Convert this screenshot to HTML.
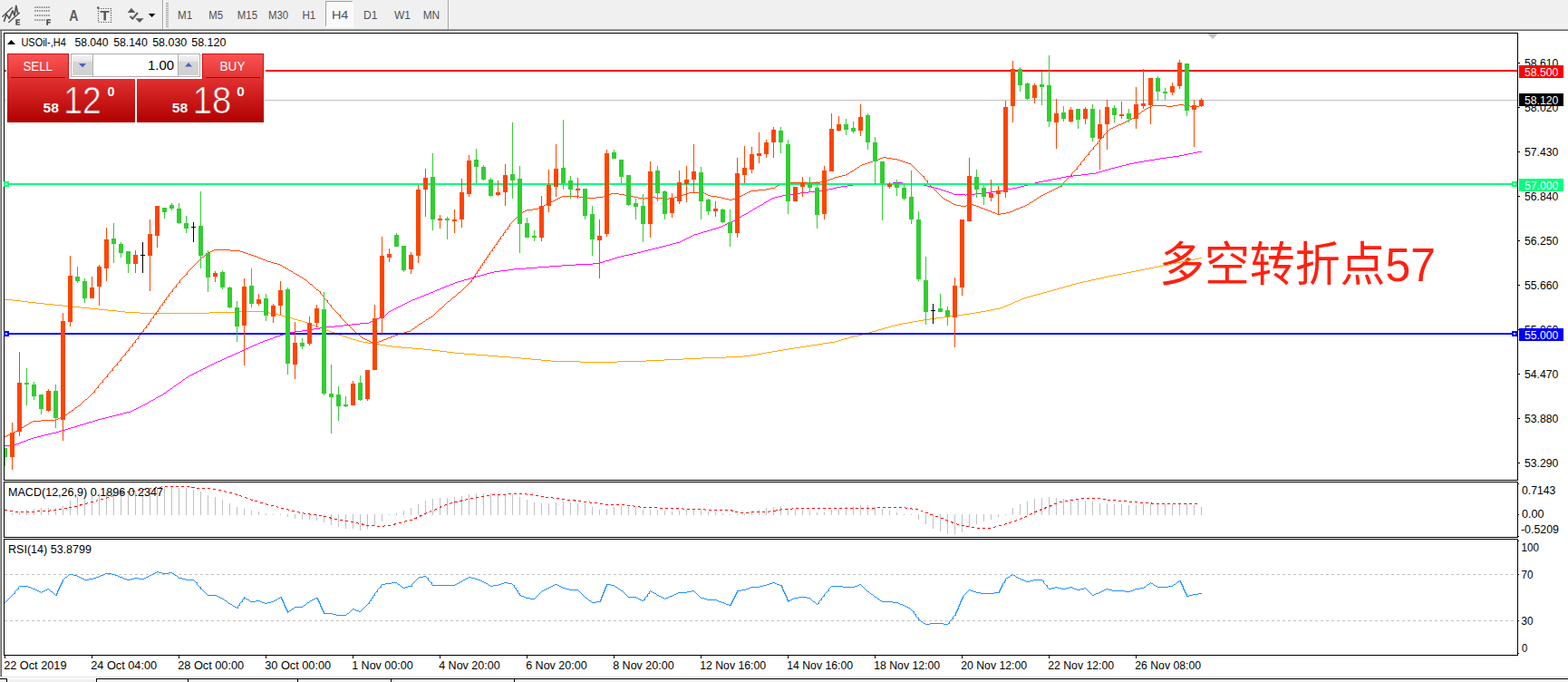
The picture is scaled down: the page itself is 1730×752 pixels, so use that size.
<!DOCTYPE html><html><head><meta charset="utf-8"><title>USOil H4</title>
<style>html,body{margin:0;padding:0;background:#fff;}body{width:1730px;height:752px;overflow:hidden;font-family:"Liberation Sans",sans-serif;}svg{display:block}text{font-family:"Liberation Sans",sans-serif}</style></head><body>
<svg width="1730" height="752" viewBox="0 0 1730 752">
<defs><linearGradient id="gTab" x1="0" y1="0" x2="0" y2="1"><stop offset="0" stop-color="#FB5555"/><stop offset="1" stop-color="#E23232"/></linearGradient><linearGradient id="gLow" x1="0" y1="0" x2="0" y2="1"><stop offset="0" stop-color="#E03030"/><stop offset="0.5" stop-color="#C81818"/><stop offset="1" stop-color="#B00000"/></linearGradient><linearGradient id="gLowU" gradientUnits="userSpaceOnUse" x1="0" y1="87" x2="0" y2="135"><stop offset="0" stop-color="#E03030"/><stop offset="0.5" stop-color="#C81818"/><stop offset="1" stop-color="#B00000"/></linearGradient><linearGradient id="gBtn" x1="0" y1="0" x2="0" y2="1"><stop offset="0" stop-color="#F4F4F4"/><stop offset="0.3" stop-color="#E6E6E6"/><stop offset="0.31" stop-color="#D6D6D6"/><stop offset="1" stop-color="#D0D0D0"/></linearGradient><pattern id="hatch" width="2" height="2" patternUnits="userSpaceOnUse"><rect width="2" height="2" fill="#F4F4F4"/><rect width="1" height="1" fill="#FFFFFF"/><rect x="1" y="1" width="1" height="1" fill="#FFFFFF"/></pattern></defs>
<rect x="0" y="0" width="1730" height="752" fill="#FFFFFF"/>
<rect x="0" y="0" width="1730" height="32" fill="#F0F0F0"/>
<rect x="0" y="32" width="1730" height="1" fill="#A0A0A0"/>
<rect x="0" y="33" width="1730" height="1" fill="#696969"/>
<rect x="0" y="34" width="1" height="712" fill="#A0A0A0"/>
<rect x="1" y="34" width="1" height="712" fill="#696969"/>
<rect x="0" y="746" width="1730" height="1" fill="#E3E3E3"/>
<rect x="0" y="749" width="1730" height="3" fill="#F0F0F0"/>
<rect x="106" y="748" width="1624" height="1" fill="#000"/>
<rect x="106" y="748" width="1" height="4" fill="#000"/>
<rect x="0" y="748" width="8" height="1" fill="#000"/><rect x="7" y="748" width="1" height="4" fill="#000"/>
<rect x="207" y="749" width="1" height="3" fill="#000"/>
<rect x="328" y="749" width="1" height="3" fill="#000"/>
<rect x="431" y="749" width="1" height="3" fill="#000"/>
<rect x="567" y="749" width="1" height="3" fill="#000"/>
<g shape-rendering="crispEdges">
<rect x="4" y="36" width="1671" height="1" fill="#000"/>
<rect x="4" y="529" width="1671" height="1" fill="#000"/>
<rect x="4" y="36" width="1" height="494" fill="#000"/>
<rect x="1674" y="36" width="1" height="494" fill="#000"/>
<rect x="4" y="531" width="1671" height="1" fill="#000"/>
<rect x="4" y="592" width="1671" height="1" fill="#000"/>
<rect x="4" y="531" width="1" height="62" fill="#000"/>
<rect x="1674" y="531" width="1" height="62" fill="#000"/>
<rect x="4" y="594" width="1671" height="1" fill="#000"/>
<rect x="4" y="722" width="1671" height="1" fill="#000"/>
<rect x="4" y="594" width="1" height="129" fill="#000"/>
<rect x="1674" y="594" width="1" height="129" fill="#000"/>
<rect x="5" y="110" width="1669" height="1" fill="#C0C0C0"/>
</g>
<text x="1279" y="310" font-size="52" fill="#FF2010" text-anchor="start" textLength="305" lengthAdjust="spacingAndGlyphs" style="font-family:'Liberation Sans','Noto Sans CJK SC',sans-serif">多空转折点57</text>
<path d="M5.5 330.5H13.5M14.5 331.5H22.5M23.5 332.5H30.5M31.5 333.5H39.5M40.5 334.5H48.5M49.5 335.5H58.5M59.5 336.5H68.5M69.5 337.5H78.5M79.5 338.5H88.5M89.5 339.5H98.5M99.5 340.5H108.5M109.5 341.5H118.5M119.5 342.5H128.5M129.5 343.5H137.5M138.5 344.5H153.5M154.5 345.5H169.5M170.5 346.5H170.5M171.5 345.5H230.5M231.5 344.5H262.5M263.5 343.5H290.5M291.5 344.5H296.5M297.5 345.5H302.5M303.5 346.5H306.5M307.5 347.5H310.5M311.5 348.5H313.5M314.5 349.5H317.5M318.5 350.5H321.5M322.5 351.5H324.5M325.5 352.5H328.5M329.5 353.5H332.5M333.5 354.5H335.5M336.5 355.5H338.5M339.5 356.5H341.5M342.5 357.5H343.5M344.5 358.5H346.5M347.5 359.5H349.5M350.5 360.5H351.5M352.5 361.5H354.5M355.5 362.5H357.5M358.5 363.5H359.5M360.5 364.5H362.5M363.5 365.5H365.5M366.5 366.5H368.5M369.5 367.5H371.5M372.5 368.5H373.5M374.5 369.5H376.5M377.5 370.5H379.5M380.5 371.5H382.5M383.5 372.5H385.5M386.5 373.5H388.5M389.5 374.5H392.5M393.5 375.5H395.5M396.5 376.5H399.5M400.5 377.5H405.5M406.5 378.5H412.5M413.5 379.5H418.5M419.5 380.5H425.5M426.5 381.5H432.5M433.5 382.5H442.5M443.5 383.5H454.5M455.5 384.5H466.5M467.5 385.5H475.5M476.5 386.5H484.5M485.5 387.5H492.5M493.5 388.5H500.5M501.5 389.5H511.5M512.5 390.5H524.5M525.5 391.5H537.5M538.5 392.5H549.5M550.5 393.5H562.5M563.5 394.5H574.5M575.5 395.5H585.5M586.5 396.5H596.5M597.5 397.5H607.5M608.5 398.5H639.5M640.5 399.5H680.5M681.5 398.5H712.5M713.5 397.5H732.5M733.5 396.5H753.5M754.5 395.5H773.5M774.5 394.5H800.5M801.5 393.5H819.5M820.5 392.5H827.5M828.5 391.5H834.5M835.5 390.5H840.5M841.5 389.5H845.5M846.5 388.5H851.5M852.5 387.5H857.5M858.5 386.5H863.5M864.5 385.5H869.5M870.5 384.5H875.5M876.5 383.5H882.5M883.5 382.5H888.5M889.5 381.5H894.5M895.5 380.5H901.5M902.5 379.5H907.5M908.5 378.5H914.5M915.5 377.5H920.5M921.5 376.5H924.5M925.5 375.5H927.5M928.5 374.5H930.5M931.5 373.5H934.5M935.5 372.5H937.5M938.5 371.5H941.5M942.5 370.5H946.5M947.5 369.5H950.5M951.5 368.5H954.5M955.5 367.5H958.5M959.5 366.5H961.5M962.5 365.5H965.5M966.5 364.5H968.5M969.5 363.5H972.5M973.5 362.5H975.5M976.5 361.5H979.5M980.5 360.5H982.5M983.5 359.5H986.5M987.5 358.5H990.5M991.5 357.5H995.5M996.5 356.5H1001.5M1002.5 355.5H1006.5M1007.5 354.5H1012.5M1013.5 353.5H1018.5M1019.5 352.5H1025.5M1026.5 351.5H1032.5M1033.5 350.5H1040.5M1041.5 349.5H1047.5M1048.5 348.5H1055.5M1056.5 347.5H1062.5M1063.5 346.5H1069.5M1070.5 345.5H1075.5M1076.5 344.5H1081.5M1082.5 343.5H1087.5M1088.5 342.5H1092.5M1093.5 341.5H1097.5M1098.5 340.5H1102.5M1103.5 339.5H1105.5M1106.5 338.5H1107.5M1108.5 337.5H1110.5M1111.5 336.5H1112.5M1113.5 335.5H1115.5M1116.5 334.5H1117.5M1118.5 333.5H1119.5M1120.5 332.5H1122.5M1123.5 331.5H1124.5M1125.5 330.5H1126.5M1127.5 329.5H1129.5M1130.5 328.5H1132.5M1133.5 327.5H1136.5M1137.5 326.5H1139.5M1140.5 325.5H1143.5M1144.5 324.5H1147.5M1148.5 323.5H1150.5M1151.5 322.5H1154.5M1155.5 321.5H1158.5M1159.5 320.5H1161.5M1162.5 319.5H1165.5M1166.5 318.5H1168.5M1169.5 317.5H1172.5M1173.5 316.5H1175.5M1176.5 315.5H1179.5M1180.5 314.5H1182.5M1183.5 313.5H1186.5M1187.5 312.5H1190.5M1191.5 311.5H1194.5M1195.5 310.5H1199.5M1200.5 309.5H1203.5M1204.5 308.5H1208.5M1209.5 307.5H1213.5M1214.5 306.5H1217.5M1218.5 305.5H1222.5M1223.5 304.5H1227.5M1228.5 303.5H1232.5M1233.5 302.5H1237.5M1238.5 301.5H1242.5M1243.5 300.5H1247.5M1248.5 299.5H1252.5M1253.5 298.5H1257.5M1258.5 297.5H1262.5M1263.5 296.5H1267.5M1268.5 295.5H1272.5M1273.5 294.5H1277.5M1278.5 293.5H1282.5M1283.5 292.5H1287.5M1288.5 291.5H1292.5M1293.5 290.5H1297.5M1298.5 289.5H1302.5M1303.5 288.5H1307.5M1308.5 287.5H1312.5M1313.5 286.5H1317.5M1318.5 285.5H1322.5M1323.5 284.5H1325.5" fill="none" stroke="#FFA500" stroke-width="1" stroke-linecap="square" shape-rendering="crispEdges"/>
<path d="M5.5 491.5H15.5M16.5 490.5H17.5M18.5 489.5H20.5M21.5 488.5H22.5M23.5 487.5H25.5M26.5 486.5H28.5M29.5 485.5H30.5M31.5 484.5H33.5M34.5 483.5H36.5M37.5 482.5H40.5M41.5 481.5H44.5M45.5 480.5H48.5M49.5 479.5H52.5M53.5 478.5H56.5M57.5 477.5H61.5M62.5 476.5H64.5M65.5 475.5H67.5M68.5 474.5H71.5M72.5 473.5H74.5M75.5 472.5H77.5M78.5 471.5H81.5M82.5 470.5H84.5M85.5 469.5H87.5M88.5 468.5H91.5M92.5 467.5H94.5M95.5 466.5H97.5M98.5 465.5H101.5M102.5 464.5H104.5M105.5 463.5H107.5M108.5 462.5H111.5M112.5 461.5H115.5M116.5 460.5H119.5M120.5 459.5H123.5M124.5 458.5H127.5M128.5 457.5H131.5M132.5 456.5H135.5M136.5 455.5H139.5M140.5 454.5H143.5M144.5 453.5H145.5M146.5 452.5H147.5M148.5 451.5H149.5M150.5 450.5H151.5M152.5 449.5H153.5M154.5 448.5H155.5M156.5 447.5H157.5M158.5 446.5H159.5M160.5 445.5H161.5M162.5 444.5H163.5M164.5 443.5H164.5M165.5 442.5H166.5M167.5 441.5H168.5M169.5 440.5H170.5M171.5 439.5H171.5M172.5 438.5H173.5M174.5 437.5H175.5M176.5 436.5H177.5M178.5 435.5H179.5M180.5 434.5H180.5M181.5 433.5H182.5M183.5 432.5H183.5M184.5 431.5H184.5M185.5 430.5H186.5M187.5 429.5H187.5M188.5 428.5H189.5M190.5 427.5H190.5M191.5 426.5H191.5M192.5 425.5H193.5M194.5 424.5H194.5M195.5 423.5H196.5M197.5 422.5H197.5M198.5 421.5H199.5M200.5 420.5H200.5M201.5 419.5H201.5M202.5 418.5H203.5M204.5 417.5H204.5M205.5 416.5H206.5M207.5 415.5H207.5M208.5 414.5H209.5M210.5 413.5H211.5M212.5 412.5H213.5M214.5 411.5H215.5M216.5 410.5H217.5M218.5 409.5H219.5M220.5 408.5H221.5M222.5 407.5H223.5M224.5 406.5H225.5M226.5 405.5H227.5M228.5 404.5H229.5M230.5 403.5H231.5M232.5 402.5H233.5M234.5 401.5H235.5M236.5 400.5H237.5M238.5 399.5H239.5M240.5 398.5H242.5M243.5 397.5H244.5M245.5 396.5H246.5M247.5 395.5H248.5M249.5 394.5H250.5M251.5 393.5H253.5M254.5 392.5H255.5M256.5 391.5H257.5M258.5 390.5H259.5M260.5 389.5H262.5M263.5 388.5H264.5M265.5 387.5H266.5M267.5 386.5H268.5M269.5 385.5H270.5M271.5 384.5H273.5M274.5 383.5H275.5M276.5 382.5H277.5M278.5 381.5H279.5M280.5 380.5H282.5M283.5 379.5H284.5M285.5 378.5H286.5M287.5 377.5H289.5M290.5 376.5H291.5M292.5 375.5H294.5M295.5 374.5H297.5M298.5 373.5H300.5M301.5 372.5H302.5M303.5 371.5H305.5M306.5 370.5H308.5M309.5 369.5H311.5M312.5 368.5H315.5M316.5 367.5H319.5M320.5 366.5H324.5M325.5 365.5H332.5M333.5 364.5H339.5M340.5 363.5H345.5M346.5 362.5H352.5M353.5 361.5H359.5M360.5 360.5H368.5M369.5 359.5H378.5M379.5 358.5H387.5M388.5 357.5H396.5M397.5 356.5H406.5M407.5 355.5H408.5M409.5 354.5H410.5M411.5 353.5H412.5M413.5 352.5H415.5M416.5 351.5H417.5M418.5 350.5H419.5M420.5 349.5H421.5M422.5 348.5H424.5M425.5 347.5H425.5M426.5 346.5H426.5M427.5 345.5H427.5M428.5 344.5H428.5M429.5 343.5H430.5M431.5 342.5H432.5M433.5 341.5H434.5M435.5 340.5H436.5M437.5 339.5H438.5M439.5 338.5H440.5M441.5 337.5H442.5M443.5 336.5H444.5M445.5 335.5H446.5M447.5 334.5H448.5M449.5 333.5H450.5M451.5 332.5H452.5M453.5 331.5H454.5M455.5 330.5H457.5M458.5 329.5H459.5M460.5 328.5H462.5M463.5 327.5H464.5M465.5 326.5H467.5M468.5 325.5H469.5M470.5 324.5H472.5M473.5 323.5H474.5M475.5 322.5H477.5M478.5 321.5H479.5M480.5 320.5H481.5M482.5 319.5H484.5M485.5 318.5H486.5M487.5 317.5H489.5M490.5 316.5H491.5M492.5 315.5H494.5M495.5 314.5H496.5M497.5 313.5H499.5M500.5 312.5H501.5M502.5 311.5H504.5M505.5 310.5H508.5M509.5 309.5H511.5M512.5 308.5H515.5M516.5 307.5H518.5M519.5 306.5H522.5M523.5 305.5H525.5M526.5 304.5H529.5M530.5 303.5H533.5M534.5 302.5H536.5M537.5 301.5H540.5M541.5 300.5H544.5M545.5 299.5H551.5M552.5 298.5H559.5M560.5 297.5H566.5M567.5 296.5H579.5M580.5 295.5H592.5M593.5 294.5H605.5M606.5 293.5H619.5M620.5 292.5H634.5M635.5 291.5H653.5M654.5 290.5H661.5M662.5 289.5H664.5M665.5 288.5H667.5M668.5 287.5H671.5M672.5 286.5H674.5M675.5 285.5H677.5M678.5 284.5H680.5M681.5 283.5H684.5M685.5 282.5H688.5M689.5 281.5H693.5M694.5 280.5H697.5M698.5 279.5H702.5M703.5 278.5H706.5M707.5 277.5H710.5M711.5 276.5H714.5M715.5 275.5H718.5M719.5 274.5H722.5M723.5 273.5H726.5M727.5 272.5H730.5M731.5 271.5H734.5M735.5 270.5H738.5M739.5 269.5H741.5M742.5 268.5H745.5M746.5 267.5H749.5M750.5 266.5H751.5M752.5 265.5H753.5M754.5 264.5H755.5M756.5 263.5H757.5M758.5 262.5H759.5M760.5 261.5H761.5M762.5 260.5H763.5M764.5 259.5H765.5M766.5 258.5H769.5M770.5 257.5H772.5M773.5 256.5H775.5M776.5 255.5H779.5M780.5 254.5H782.5M783.5 253.5H785.5M786.5 252.5H789.5M790.5 251.5H792.5M793.5 250.5H795.5M796.5 249.5H797.5M798.5 248.5H799.5M800.5 247.5H801.5M802.5 246.5H803.5M804.5 245.5H806.5M807.5 244.5H808.5M809.5 243.5H810.5M811.5 242.5H811.5M812.5 241.5H813.5M814.5 240.5H815.5M816.5 239.5H817.5M818.5 238.5H818.5M819.5 237.5H820.5M821.5 236.5H822.5M823.5 235.5H824.5M825.5 234.5H825.5M826.5 233.5H827.5M828.5 232.5H829.5M830.5 231.5H830.5M831.5 230.5H832.5M833.5 229.5H834.5M835.5 228.5H835.5M836.5 227.5H837.5M838.5 226.5H839.5M840.5 225.5H841.5M842.5 224.5H842.5M843.5 223.5H844.5M845.5 222.5H846.5M847.5 221.5H847.5M848.5 220.5H849.5M850.5 219.5H851.5M852.5 218.5H854.5M855.5 217.5H858.5M859.5 216.5H862.5M863.5 215.5H868.5M869.5 214.5H874.5M875.5 213.5H882.5M883.5 212.5H891.5M892.5 211.5H900.5M901.5 210.5H909.5M910.5 209.5H913.5M914.5 208.5H918.5M919.5 207.5H922.5M923.5 206.5H927.5M928.5 205.5H934.5M935.5 204.5H940.5M941.5 203.5H965.5M966.5 202.5H984.5M985.5 201.5H995.5M996.5 202.5H1014.5M1015.5 203.5H1018.5M1019.5 204.5H1022.5M1023.5 205.5H1026.5M1027.5 206.5H1030.5M1031.5 207.5H1034.5M1035.5 208.5H1037.5M1038.5 209.5H1040.5M1041.5 210.5H1043.5M1044.5 211.5H1046.5M1047.5 212.5H1049.5M1050.5 213.5H1051.5M1052.5 214.5H1064.5M1065.5 215.5H1065.5M1066.5 214.5H1075.5M1076.5 213.5H1084.5M1085.5 212.5H1093.5M1094.5 211.5H1102.5M1103.5 210.5H1107.5M1108.5 209.5H1111.5M1112.5 208.5H1116.5M1117.5 207.5H1121.5M1122.5 206.5H1125.5M1126.5 205.5H1129.5M1130.5 204.5H1133.5M1134.5 203.5H1137.5M1138.5 202.5H1141.5M1142.5 201.5H1145.5M1146.5 200.5H1150.5M1151.5 199.5H1155.5M1156.5 198.5H1160.5M1161.5 197.5H1165.5M1166.5 196.5H1170.5M1171.5 195.5H1175.5M1176.5 194.5H1183.5M1184.5 193.5H1192.5M1193.5 192.5H1200.5M1201.5 191.5H1208.5M1209.5 190.5H1211.5M1212.5 189.5H1215.5M1216.5 188.5H1218.5M1219.5 187.5H1222.5M1223.5 186.5H1225.5M1226.5 185.5H1229.5M1230.5 184.5H1233.5M1234.5 183.5H1237.5M1238.5 182.5H1241.5M1242.5 181.5H1245.5M1246.5 180.5H1250.5M1251.5 179.5H1255.5M1256.5 178.5H1261.5M1262.5 177.5H1267.5M1268.5 176.5H1273.5M1274.5 175.5H1279.5M1280.5 174.5H1286.5M1287.5 173.5H1293.5M1294.5 172.5H1300.5M1301.5 171.5H1305.5M1306.5 170.5H1310.5M1311.5 169.5H1315.5M1316.5 168.5H1320.5M1321.5 167.5H1325.5" fill="none" stroke="#FF00FF" stroke-width="1" stroke-linecap="square" shape-rendering="crispEdges"/>
<path d="M5.5 481.5H6.5M7.5 480.5H8.5M9.5 479.5H10.5M11.5 478.5H12.5M13.5 477.5H14.5M15.5 476.5H16.5M17.5 475.5H18.5M19.5 474.5H20.5M21.5 473.5H21.5M22.5 472.5H23.5M24.5 471.5H25.5M26.5 470.5H26.5M27.5 469.5H28.5M29.5 468.5H30.5M31.5 467.5H31.5M32.5 466.5H33.5M34.5 465.5H35.5M36.5 464.5H44.5M45.5 463.5H61.5M62.5 462.5H63.5M64.5 461.5H65.5M66.5 460.5H67.5M68.5 459.5H70.5M71.5 458.5H71.5M72.5 457.5H73.5M74.5 456.5H74.5M75.5 455.5H75.5M76.5 454.5H77.5M78.5 453.5H78.5M79.5 452.5H80.5M81.5 451.5H81.5M82.5 450.5H82.5M83.5 449.5H84.5M85.5 448.5H85.5M86.5 447.5H87.5M88.5 446.5H88.5M89.5 445.5H89.5M90.5 444.5H90.5M91.5 443.5H91.5M92.5 442.5H92.5M93.5 441.5H93.5M94.5 440.5H95.5M96.5 439.5H96.5M97.5 438.5H97.5M98.5 437.5H98.5M99.5 436.5H99.5M100.5 435.5H100.5M101.5 434.5H101.5M102.5 433.5H102.5M103.5 432.5H104.5V430.5H104.5M105.5 429.5H105.5M106.5 428.5H106.5M107.5 427.5H108.5V425.5H108.5M109.5 424.5H109.5M110.5 423.5H110.5M111.5 422.5H111.5M112.5 421.5H113.5V419.5H113.5M114.5 418.5H114.5M115.5 417.5H115.5M116.5 416.5H116.5M117.5 415.5H118.5V413.5H118.5M119.5 412.5H119.5M120.5 411.5H120.5M121.5 410.5H121.5M122.5 409.5H122.5M123.5 408.5H124.5V406.5H124.5M125.5 405.5H125.5M126.5 404.5H126.5M127.5 403.5H127.5M128.5 402.5H129.5V400.5H129.5M130.5 399.5H130.5M131.5 398.5H131.5M132.5 397.5H133.5V395.5H133.5M134.5 394.5H134.5M135.5 393.5H135.5M136.5 392.5H136.5M137.5 391.5H138.5V389.5H138.5M139.5 388.5H139.5M140.5 387.5H140.5M141.5 386.5H142.5V384.5H142.5M143.5 383.5H143.5M144.5 382.5H144.5M145.5 381.5H146.5V379.5H146.5M147.5 378.5H147.5M148.5 377.5H149.5V375.5H149.5M150.5 374.5H150.5M151.5 373.5H152.5V371.5H152.5M153.5 370.5H153.5M154.5 369.5H154.5M155.5 368.5H156.5V366.5H156.5M157.5 365.5H158.5V363.5H158.5M159.5 362.5H159.5M160.5 361.5H161.5V359.5H161.5M162.5 358.5H162.5M163.5 357.5H164.5V355.5H164.5M165.5 354.5H166.5V352.5H166.5M167.5 351.5H167.5M168.5 350.5H169.5V348.5H169.5M170.5 347.5H170.5M171.5 346.5H172.5V344.5H172.5M173.5 343.5H174.5V341.5H174.5M175.5 340.5H176.5V338.5H176.5M177.5 337.5H177.5M178.5 336.5H179.5V334.5H179.5M180.5 333.5H181.5V331.5H181.5M182.5 330.5H183.5V328.5H183.5M184.5 327.5H184.5M185.5 326.5H186.5V324.5H186.5M187.5 323.5H187.5M188.5 322.5H188.5M189.5 321.5H190.5V319.5H190.5M191.5 318.5H191.5M192.5 317.5H192.5M193.5 316.5H194.5V314.5H194.5M195.5 313.5H195.5M196.5 312.5H196.5M197.5 311.5H198.5V309.5H198.5M199.5 308.5H199.5M200.5 307.5H200.5M201.5 306.5H201.5M202.5 305.5H202.5M203.5 304.5H203.5M204.5 303.5H204.5M205.5 302.5H206.5V300.5H206.5M207.5 299.5H207.5M208.5 298.5H208.5M209.5 297.5H209.5M210.5 296.5H210.5M211.5 295.5H211.5M212.5 294.5H212.5M213.5 293.5H213.5M214.5 292.5H214.5M215.5 291.5H215.5M216.5 290.5H216.5M217.5 289.5H217.5M218.5 288.5H218.5M219.5 287.5H219.5M220.5 286.5H220.5M221.5 285.5H221.5M222.5 284.5H222.5M223.5 283.5H224.5M225.5 282.5H225.5M226.5 281.5H226.5M227.5 280.5H227.5M228.5 279.5H229.5M230.5 278.5H231.5M232.5 277.5H233.5M234.5 276.5H235.5M236.5 275.5H253.5M254.5 276.5H264.5M265.5 277.5H267.5M268.5 278.5H270.5M271.5 279.5H273.5M274.5 280.5H276.5M277.5 281.5H279.5M280.5 282.5H282.5M283.5 283.5H284.5M285.5 284.5H287.5M288.5 285.5H289.5M290.5 286.5H292.5M293.5 287.5H294.5M295.5 288.5H298.5M299.5 289.5H301.5M302.5 290.5H305.5M306.5 291.5H308.5M309.5 292.5H310.5M311.5 293.5H311.5M312.5 294.5H313.5M314.5 295.5H315.5M316.5 296.5H317.5M318.5 297.5H318.5M319.5 298.5H320.5M321.5 299.5H322.5M323.5 300.5H323.5M324.5 301.5H325.5M326.5 302.5H327.5M328.5 303.5H329.5M330.5 304.5H330.5M331.5 305.5H332.5M333.5 306.5H334.5M335.5 307.5H335.5M336.5 308.5H337.5M338.5 309.5H338.5M339.5 310.5H339.5M340.5 311.5H340.5M341.5 312.5H341.5M342.5 313.5H343.5M344.5 314.5H344.5M345.5 315.5H345.5M346.5 316.5H346.5M347.5 317.5H347.5M348.5 318.5H348.5M349.5 319.5H350.5M351.5 320.5H351.5M352.5 321.5H353.5V323.5H353.5M354.5 324.5H354.5M355.5 325.5H355.5M356.5 326.5H357.5V328.5H357.5M358.5 329.5H358.5M359.5 330.5H359.5M360.5 331.5H361.5V333.5H361.5M362.5 334.5H362.5M363.5 335.5H363.5M364.5 336.5H365.5V338.5H365.5M366.5 339.5H366.5M367.5 340.5H367.5M368.5 341.5H368.5M369.5 342.5H369.5M370.5 343.5H370.5M371.5 344.5H371.5M372.5 345.5H372.5M373.5 346.5H373.5M374.5 347.5H375.5V349.5H375.5M376.5 350.5H376.5M377.5 351.5H377.5M378.5 352.5H378.5M379.5 353.5H379.5M380.5 354.5H380.5M381.5 355.5H381.5M382.5 356.5H382.5M383.5 357.5H383.5M384.5 358.5H384.5M385.5 359.5H385.5M386.5 360.5H386.5M387.5 361.5H387.5M388.5 362.5H388.5M389.5 363.5H389.5M390.5 364.5H390.5M391.5 365.5H391.5M392.5 366.5H392.5M393.5 367.5H394.5M395.5 368.5H395.5M396.5 369.5H396.5M397.5 370.5H397.5M398.5 371.5H398.5M399.5 372.5H400.5M401.5 373.5H402.5M403.5 374.5H404.5M405.5 375.5H406.5M407.5 376.5H408.5M409.5 377.5H417.5M418.5 376.5H420.5M421.5 375.5H422.5M423.5 374.5H425.5M426.5 373.5H427.5M428.5 372.5H430.5M431.5 371.5H432.5M433.5 370.5H435.5M436.5 369.5H438.5M439.5 368.5H442.5M443.5 367.5H445.5M446.5 366.5H448.5M449.5 365.5H452.5M453.5 364.5H453.5M454.5 363.5H454.5M455.5 362.5H456.5M457.5 361.5H457.5M458.5 360.5H459.5M460.5 359.5H460.5M461.5 358.5H461.5M462.5 357.5H463.5M464.5 356.5H465.5M466.5 355.5H466.5M467.5 354.5H468.5M469.5 353.5H469.5M470.5 352.5H471.5M472.5 351.5H472.5M473.5 350.5H474.5M475.5 349.5H476.5M477.5 348.5H477.5M478.5 347.5H478.5M479.5 346.5H479.5M480.5 345.5H480.5M481.5 344.5H481.5M482.5 343.5H482.5M483.5 342.5H483.5M484.5 341.5H484.5M485.5 340.5H486.5M487.5 339.5H487.5M488.5 338.5H488.5M489.5 337.5H489.5M490.5 336.5H490.5M491.5 335.5H491.5M492.5 334.5H492.5M493.5 333.5H493.5M494.5 332.5H495.5M496.5 331.5H496.5M497.5 330.5H497.5M498.5 329.5H498.5M499.5 328.5H499.5M500.5 327.5H501.5M502.5 326.5H502.5M503.5 325.5H503.5M504.5 324.5H504.5M505.5 323.5H505.5M506.5 322.5H507.5M508.5 321.5H508.5M509.5 320.5H509.5M510.5 319.5H510.5M511.5 318.5H511.5M512.5 317.5H512.5M513.5 316.5H513.5M514.5 315.5H514.5M515.5 314.5H515.5M516.5 313.5H516.5M517.5 312.5H517.5M518.5 311.5H518.5M519.5 310.5H520.5V308.5H520.5M521.5 307.5H522.5V305.5H522.5M523.5 304.5H524.5V302.5H524.5M525.5 301.5H526.5V299.5H526.5M527.5 298.5H528.5V296.5H528.5M529.5 295.5H530.5V293.5H530.5M531.5 292.5H532.5V290.5H532.5M533.5 289.5H534.5V287.5H534.5M535.5 286.5H536.5V284.5H536.5M537.5 283.5H538.5V281.5H538.5M539.5 280.5H540.5V278.5H540.5M541.5 277.5H541.5M542.5 276.5H543.5V274.5H543.5M544.5 273.5H545.5V271.5H545.5M546.5 270.5H546.5M547.5 269.5H548.5V267.5H548.5M549.5 266.5H550.5V264.5H550.5M551.5 263.5H552.5V261.5H552.5M553.5 260.5H553.5M554.5 259.5H555.5V257.5H555.5M556.5 256.5H557.5V254.5H557.5M558.5 253.5H558.5M559.5 252.5H560.5V250.5H560.5M561.5 249.5H562.5V247.5H562.5M563.5 246.5H563.5M564.5 245.5H564.5M565.5 244.5H565.5M566.5 243.5H566.5M567.5 242.5H567.5M568.5 241.5H568.5M569.5 240.5H569.5M570.5 239.5H570.5M571.5 238.5H571.5M572.5 237.5H572.5M573.5 236.5H573.5M574.5 235.5H574.5M575.5 234.5H576.5M577.5 233.5H578.5M579.5 232.5H580.5M581.5 231.5H587.5M588.5 230.5H593.5M594.5 229.5H595.5M596.5 228.5H597.5M598.5 227.5H599.5M600.5 226.5H601.5M602.5 225.5H603.5M604.5 224.5H605.5M606.5 223.5H607.5M608.5 222.5H609.5M610.5 221.5H611.5M612.5 220.5H613.5M614.5 219.5H615.5M616.5 218.5H617.5M618.5 217.5H619.5M620.5 216.5H638.5M639.5 217.5H644.5M645.5 218.5H657.5M658.5 217.5H665.5M666.5 216.5H668.5M669.5 215.5H670.5M671.5 214.5H673.5M674.5 213.5H682.5M683.5 214.5H688.5M689.5 215.5H693.5M694.5 216.5H698.5M699.5 217.5H703.5M704.5 218.5H708.5M709.5 219.5H710.5M711.5 218.5H716.5M717.5 217.5H722.5M723.5 218.5H730.5M731.5 219.5H737.5M738.5 218.5H743.5M744.5 217.5H747.5M748.5 216.5H750.5M751.5 215.5H753.5M754.5 214.5H756.5M757.5 213.5H759.5M760.5 212.5H776.5M777.5 213.5H778.5M779.5 214.5H780.5M781.5 215.5H783.5M784.5 216.5H790.5M791.5 217.5H795.5M796.5 218.5H799.5M800.5 219.5H803.5M804.5 220.5H807.5M808.5 219.5H811.5M812.5 218.5H813.5M814.5 217.5H815.5M816.5 216.5H817.5M818.5 215.5H819.5M820.5 214.5H821.5M822.5 213.5H823.5M824.5 212.5H825.5M826.5 211.5H827.5M828.5 210.5H835.5M836.5 209.5H844.5M845.5 208.5H849.5M850.5 207.5H854.5M855.5 206.5H855.5M856.5 205.5H857.5M858.5 204.5H859.5M860.5 203.5H863.5M864.5 202.5H869.5M870.5 201.5H904.5M905.5 200.5H908.5M909.5 199.5H912.5M913.5 198.5H915.5M916.5 197.5H918.5M919.5 196.5H920.5M921.5 195.5H924.5M925.5 194.5H928.5M929.5 193.5H932.5M933.5 192.5H934.5M935.5 191.5H936.5M937.5 190.5H937.5M938.5 189.5H939.5M940.5 188.5H941.5M942.5 187.5H942.5M943.5 186.5H944.5M945.5 185.5H945.5M946.5 184.5H947.5M948.5 183.5H948.5M949.5 182.5H950.5M951.5 181.5H953.5M954.5 180.5H956.5M957.5 179.5H959.5M960.5 178.5H962.5M963.5 177.5H965.5M966.5 176.5H968.5M969.5 175.5H970.5M971.5 174.5H973.5M974.5 173.5H977.5M978.5 174.5H983.5M984.5 175.5H989.5M990.5 176.5H992.5M993.5 177.5H995.5M996.5 178.5H998.5M999.5 179.5H1001.5M1002.5 180.5H1004.5M1005.5 181.5H1005.5M1006.5 182.5H1006.5M1007.5 183.5H1007.5M1008.5 184.5H1008.5M1009.5 185.5H1009.5M1010.5 186.5H1010.5M1011.5 187.5H1011.5M1012.5 188.5H1012.5M1013.5 189.5H1013.5M1014.5 190.5H1014.5M1015.5 191.5H1015.5M1016.5 192.5H1016.5M1017.5 193.5H1017.5M1018.5 194.5H1019.5V196.5H1019.5M1020.5 197.5H1020.5M1021.5 198.5H1021.5M1022.5 199.5H1023.5V201.5H1023.5M1024.5 202.5H1024.5M1025.5 203.5H1025.5M1026.5 204.5H1026.5M1027.5 205.5H1027.5M1028.5 206.5H1028.5M1029.5 207.5H1029.5M1030.5 208.5H1030.5M1031.5 209.5H1031.5M1032.5 210.5H1032.5M1033.5 211.5H1033.5M1034.5 212.5H1034.5M1035.5 213.5H1035.5M1036.5 214.5H1036.5M1037.5 215.5H1037.5M1038.5 216.5H1038.5M1039.5 217.5H1039.5M1040.5 218.5H1040.5M1041.5 219.5H1042.5M1043.5 220.5H1044.5M1045.5 221.5H1046.5M1047.5 222.5H1048.5M1049.5 223.5H1049.5M1050.5 224.5H1051.5M1052.5 225.5H1054.5M1055.5 226.5H1059.5M1060.5 227.5H1065.5M1066.5 226.5H1070.5M1071.5 225.5H1073.5M1074.5 226.5H1076.5M1077.5 227.5H1079.5M1080.5 228.5H1081.5M1082.5 229.5H1084.5M1085.5 230.5H1086.5M1087.5 231.5H1089.5M1090.5 232.5H1092.5M1093.5 233.5H1094.5M1095.5 234.5H1097.5M1098.5 235.5H1099.5M1100.5 236.5H1103.5M1104.5 235.5H1109.5M1110.5 234.5H1113.5M1114.5 233.5H1116.5M1117.5 232.5H1118.5M1119.5 231.5H1120.5M1121.5 230.5H1123.5M1124.5 229.5H1125.5M1126.5 228.5H1128.5M1129.5 227.5H1130.5M1131.5 226.5H1132.5M1133.5 225.5H1134.5M1135.5 224.5H1135.5M1136.5 223.5H1137.5M1138.5 222.5H1139.5M1140.5 221.5H1140.5M1141.5 220.5H1142.5M1143.5 219.5H1143.5M1144.5 218.5H1145.5M1146.5 217.5H1146.5M1147.5 216.5H1148.5M1149.5 215.5H1150.5M1151.5 214.5H1152.5M1153.5 213.5H1154.5M1155.5 212.5H1156.5M1157.5 211.5H1158.5M1159.5 210.5H1160.5M1161.5 209.5H1162.5M1163.5 208.5H1164.5M1165.5 207.5H1166.5M1167.5 206.5H1168.5M1169.5 205.5H1171.5V203.5H1171.5M1172.5 202.5H1172.5M1173.5 201.5H1173.5M1174.5 200.5H1174.5M1175.5 199.5H1175.5M1176.5 198.5H1176.5M1177.5 197.5H1177.5M1178.5 196.5H1178.5M1179.5 195.5H1179.5M1180.5 194.5H1180.5M1181.5 193.5H1182.5V191.5H1182.5M1183.5 190.5H1183.5M1184.5 189.5H1184.5M1185.5 188.5H1185.5M1186.5 187.5H1186.5M1187.5 186.5H1188.5V184.5H1188.5M1189.5 183.5H1189.5M1190.5 182.5H1190.5M1191.5 181.5H1192.5V179.5H1192.5M1193.5 178.5H1193.5M1194.5 177.5H1194.5M1195.5 176.5H1196.5V174.5H1196.5M1197.5 173.5H1197.5M1198.5 172.5H1198.5M1199.5 171.5H1199.5M1200.5 170.5H1201.5V168.5H1201.5M1202.5 167.5H1202.5M1203.5 166.5H1203.5M1204.5 165.5H1204.5M1205.5 164.5H1206.5V162.5H1206.5M1207.5 161.5H1207.5M1208.5 160.5H1208.5M1209.5 159.5H1209.5M1210.5 158.5H1211.5V156.5H1211.5M1212.5 155.5H1212.5M1213.5 154.5H1213.5M1214.5 153.5H1214.5M1215.5 152.5H1215.5M1216.5 151.5H1217.5V149.5H1217.5M1218.5 148.5H1218.5M1219.5 147.5H1219.5M1220.5 146.5H1220.5M1221.5 145.5H1221.5M1222.5 144.5H1222.5M1223.5 143.5H1223.5M1224.5 142.5H1225.5M1226.5 141.5H1227.5M1228.5 140.5H1229.5M1230.5 139.5H1231.5M1232.5 138.5H1233.5M1234.5 137.5H1236.5M1237.5 136.5H1238.5M1239.5 135.5H1240.5M1241.5 134.5H1242.5M1243.5 133.5H1244.5M1245.5 132.5H1246.5M1247.5 131.5H1248.5M1249.5 130.5H1250.5M1251.5 129.5H1251.5M1252.5 128.5H1252.5M1253.5 127.5H1254.5M1255.5 126.5H1255.5M1256.5 125.5H1257.5M1258.5 124.5H1258.5M1259.5 123.5H1259.5M1260.5 122.5H1261.5M1262.5 121.5H1262.5M1263.5 120.5H1264.5M1265.5 119.5H1266.5M1267.5 118.5H1268.5M1269.5 117.5H1270.5M1271.5 116.5H1286.5M1287.5 117.5H1293.5M1294.5 116.5H1299.5M1300.5 115.5H1305.5M1306.5 116.5H1312.5M1313.5 117.5H1322.5M1323.5 116.5H1326.5" fill="none" stroke="#FF4500" stroke-width="1" stroke-linecap="square" shape-rendering="crispEdges"/>
<g shape-rendering="crispEdges">
<rect x="293" y="77" width="1381" height="2" fill="#FF0000"/>
<rect x="5" y="77" width="3" height="2" fill="#FF0000"/>
<rect x="5" y="202" width="1669" height="2" fill="#00FF7F"/>
<rect x="5" y="367" width="1669" height="2" fill="#0000FF"/>
<rect x="4" y="200" width="6" height="6" fill="#00FF7F"/><rect x="6" y="202" width="2" height="2" fill="#fff"/>
<rect x="1668" y="200" width="6" height="6" fill="#00FF7F"/><rect x="1670" y="202" width="2" height="2" fill="#fff"/>
<rect x="4" y="365" width="6" height="6" fill="#0000FF"/><rect x="6" y="367" width="2" height="2" fill="#fff"/>
<rect x="1668" y="365" width="6" height="6" fill="#0000FF"/><rect x="1670" y="367" width="2" height="2" fill="#fff"/>
</g>
<g shape-rendering="crispEdges">
<rect x="5" y="494" width="1" height="20" fill="#32CD32"/>
<rect x="5" y="494" width="3" height="10" fill="#32CD32"/>
<rect x="13" y="466" width="1" height="52" fill="#FF4500"/>
<rect x="11" y="477" width="5" height="27" fill="#FF4500"/>
<rect x="21" y="388" width="1" height="93" fill="#FF4500"/>
<rect x="19" y="422" width="5" height="54" fill="#FF4500"/>
<rect x="29" y="406" width="1" height="41" fill="#32CD32"/>
<rect x="27" y="422" width="5" height="2" fill="#32CD32"/>
<rect x="37" y="421" width="1" height="20" fill="#32CD32"/>
<rect x="35" y="424" width="5" height="13" fill="#32CD32"/>
<rect x="45" y="435" width="1" height="22" fill="#32CD32"/>
<rect x="43" y="435" width="5" height="16" fill="#32CD32"/>
<rect x="53" y="429" width="1" height="25" fill="#FF4500"/>
<rect x="51" y="431" width="5" height="22" fill="#FF4500"/>
<rect x="61" y="424" width="1" height="48" fill="#32CD32"/>
<rect x="59" y="431" width="5" height="30" fill="#32CD32"/>
<rect x="69" y="345" width="1" height="141" fill="#FF4500"/>
<rect x="67" y="354" width="5" height="109" fill="#FF4500"/>
<rect x="77" y="282" width="1" height="78" fill="#FF4500"/>
<rect x="75" y="304" width="5" height="51" fill="#FF4500"/>
<rect x="85" y="294" width="1" height="18" fill="#32CD32"/>
<rect x="83" y="305" width="5" height="5" fill="#32CD32"/>
<rect x="93" y="307" width="1" height="27" fill="#32CD32"/>
<rect x="91" y="310" width="5" height="19" fill="#32CD32"/>
<rect x="101" y="305" width="1" height="24" fill="#FF4500"/>
<rect x="99" y="317" width="5" height="12" fill="#FF4500"/>
<rect x="109" y="292" width="1" height="45" fill="#FF4500"/>
<rect x="107" y="294" width="5" height="22" fill="#FF4500"/>
<rect x="117" y="251" width="1" height="59" fill="#FF4500"/>
<rect x="115" y="264" width="5" height="32" fill="#FF4500"/>
<rect x="125" y="246" width="1" height="44" fill="#32CD32"/>
<rect x="123" y="263" width="5" height="6" fill="#32CD32"/>
<rect x="133" y="267" width="1" height="17" fill="#32CD32"/>
<rect x="131" y="269" width="5" height="10" fill="#32CD32"/>
<rect x="141" y="277" width="1" height="24" fill="#32CD32"/>
<rect x="139" y="277" width="5" height="14" fill="#32CD32"/>
<rect x="149" y="276" width="1" height="25" fill="#FF4500"/>
<rect x="147" y="281" width="5" height="10" fill="#FF4500"/>
<rect x="157" y="267" width="1" height="34" fill="#000"/>
<rect x="155" y="281" width="5" height="1" fill="#000"/>
<rect x="165" y="242" width="1" height="79" fill="#FF4500"/>
<rect x="163" y="258" width="5" height="24" fill="#FF4500"/>
<rect x="173" y="227" width="1" height="46" fill="#FF4500"/>
<rect x="171" y="227" width="5" height="33" fill="#FF4500"/>
<rect x="181" y="229" width="1" height="12" fill="#32CD32"/>
<rect x="179" y="229" width="5" height="5" fill="#32CD32"/>
<rect x="189" y="224" width="1" height="8" fill="#32CD32"/>
<rect x="187" y="226" width="5" height="4" fill="#32CD32"/>
<rect x="197" y="224" width="1" height="23" fill="#32CD32"/>
<rect x="195" y="230" width="5" height="16" fill="#32CD32"/>
<rect x="205" y="238" width="1" height="19" fill="#32CD32"/>
<rect x="203" y="246" width="5" height="6" fill="#32CD32"/>
<rect x="213" y="245" width="1" height="22" fill="#000"/>
<rect x="211" y="250" width="5" height="1" fill="#000"/>
<rect x="221" y="211" width="1" height="85" fill="#32CD32"/>
<rect x="219" y="249" width="5" height="33" fill="#32CD32"/>
<rect x="229" y="276" width="1" height="46" fill="#32CD32"/>
<rect x="227" y="279" width="5" height="27" fill="#32CD32"/>
<rect x="237" y="299" width="1" height="12" fill="#FF4500"/>
<rect x="235" y="301" width="5" height="4" fill="#FF4500"/>
<rect x="245" y="298" width="1" height="21" fill="#32CD32"/>
<rect x="243" y="300" width="5" height="17" fill="#32CD32"/>
<rect x="253" y="316" width="1" height="24" fill="#32CD32"/>
<rect x="251" y="317" width="5" height="22" fill="#32CD32"/>
<rect x="261" y="332" width="1" height="45" fill="#32CD32"/>
<rect x="259" y="339" width="5" height="21" fill="#32CD32"/>
<rect x="269" y="307" width="1" height="96" fill="#FF4500"/>
<rect x="267" y="316" width="5" height="43" fill="#FF4500"/>
<rect x="277" y="296" width="1" height="43" fill="#32CD32"/>
<rect x="275" y="315" width="5" height="20" fill="#32CD32"/>
<rect x="285" y="324" width="1" height="13" fill="#FF4500"/>
<rect x="283" y="330" width="5" height="5" fill="#FF4500"/>
<rect x="293" y="324" width="1" height="30" fill="#32CD32"/>
<rect x="291" y="329" width="5" height="19" fill="#32CD32"/>
<rect x="301" y="335" width="1" height="21" fill="#FF4500"/>
<rect x="299" y="337" width="5" height="12" fill="#FF4500"/>
<rect x="309" y="310" width="1" height="37" fill="#FF4500"/>
<rect x="307" y="320" width="5" height="17" fill="#FF4500"/>
<rect x="317" y="317" width="1" height="96" fill="#32CD32"/>
<rect x="315" y="319" width="5" height="82" fill="#32CD32"/>
<rect x="325" y="355" width="1" height="63" fill="#FF4500"/>
<rect x="323" y="378" width="5" height="24" fill="#FF4500"/>
<rect x="333" y="373" width="1" height="12" fill="#32CD32"/>
<rect x="331" y="378" width="5" height="4" fill="#32CD32"/>
<rect x="341" y="349" width="1" height="32" fill="#FF4500"/>
<rect x="339" y="356" width="5" height="23" fill="#FF4500"/>
<rect x="349" y="336" width="1" height="25" fill="#FF4500"/>
<rect x="347" y="340" width="5" height="16" fill="#FF4500"/>
<rect x="357" y="322" width="1" height="114" fill="#32CD32"/>
<rect x="355" y="341" width="5" height="93" fill="#32CD32"/>
<rect x="365" y="402" width="1" height="76" fill="#32CD32"/>
<rect x="363" y="434" width="5" height="4" fill="#32CD32"/>
<rect x="373" y="426" width="1" height="38" fill="#32CD32"/>
<rect x="371" y="435" width="5" height="13" fill="#32CD32"/>
<rect x="381" y="437" width="1" height="12" fill="#32CD32"/>
<rect x="379" y="446" width="5" height="2" fill="#32CD32"/>
<rect x="389" y="420" width="1" height="27" fill="#FF4500"/>
<rect x="387" y="423" width="5" height="24" fill="#FF4500"/>
<rect x="397" y="414" width="1" height="28" fill="#32CD32"/>
<rect x="395" y="422" width="5" height="19" fill="#32CD32"/>
<rect x="405" y="408" width="1" height="34" fill="#FF4500"/>
<rect x="403" y="408" width="5" height="32" fill="#FF4500"/>
<rect x="413" y="336" width="1" height="72" fill="#FF4500"/>
<rect x="411" y="351" width="5" height="57" fill="#FF4500"/>
<rect x="421" y="261" width="1" height="107" fill="#FF4500"/>
<rect x="419" y="282" width="5" height="69" fill="#FF4500"/>
<rect x="429" y="274" width="1" height="15" fill="#FF4500"/>
<rect x="427" y="280" width="5" height="4" fill="#FF4500"/>
<rect x="437" y="257" width="1" height="15" fill="#32CD32"/>
<rect x="435" y="259" width="5" height="13" fill="#32CD32"/>
<rect x="445" y="271" width="1" height="29" fill="#32CD32"/>
<rect x="443" y="271" width="5" height="27" fill="#32CD32"/>
<rect x="453" y="278" width="1" height="24" fill="#FF4500"/>
<rect x="451" y="281" width="5" height="16" fill="#FF4500"/>
<rect x="461" y="204" width="1" height="86" fill="#FF4500"/>
<rect x="459" y="209" width="5" height="73" fill="#FF4500"/>
<rect x="469" y="186" width="1" height="53" fill="#FF4500"/>
<rect x="467" y="196" width="5" height="13" fill="#FF4500"/>
<rect x="477" y="169" width="1" height="85" fill="#32CD32"/>
<rect x="475" y="195" width="5" height="47" fill="#32CD32"/>
<rect x="485" y="237" width="1" height="15" fill="#FF4500"/>
<rect x="483" y="241" width="5" height="2" fill="#FF4500"/>
<rect x="493" y="239" width="1" height="25" fill="#32CD32"/>
<rect x="491" y="241" width="5" height="2" fill="#32CD32"/>
<rect x="501" y="231" width="1" height="26" fill="#FF4500"/>
<rect x="499" y="242" width="5" height="2" fill="#FF4500"/>
<rect x="509" y="197" width="1" height="54" fill="#FF4500"/>
<rect x="507" y="212" width="5" height="30" fill="#FF4500"/>
<rect x="517" y="171" width="1" height="46" fill="#FF4500"/>
<rect x="515" y="177" width="5" height="37" fill="#FF4500"/>
<rect x="525" y="164" width="1" height="38" fill="#32CD32"/>
<rect x="523" y="176" width="5" height="8" fill="#32CD32"/>
<rect x="533" y="182" width="1" height="17" fill="#32CD32"/>
<rect x="531" y="184" width="5" height="14" fill="#32CD32"/>
<rect x="541" y="196" width="1" height="21" fill="#32CD32"/>
<rect x="539" y="198" width="5" height="18" fill="#32CD32"/>
<rect x="549" y="199" width="1" height="17" fill="#FF4500"/>
<rect x="547" y="212" width="5" height="3" fill="#FF4500"/>
<rect x="557" y="181" width="1" height="46" fill="#FF4500"/>
<rect x="555" y="193" width="5" height="19" fill="#FF4500"/>
<rect x="565" y="135" width="1" height="84" fill="#32CD32"/>
<rect x="563" y="192" width="5" height="7" fill="#32CD32"/>
<rect x="573" y="183" width="1" height="96" fill="#32CD32"/>
<rect x="571" y="197" width="5" height="50" fill="#32CD32"/>
<rect x="581" y="240" width="1" height="22" fill="#32CD32"/>
<rect x="579" y="246" width="5" height="16" fill="#32CD32"/>
<rect x="589" y="254" width="1" height="12" fill="#32CD32"/>
<rect x="587" y="260" width="5" height="2" fill="#32CD32"/>
<rect x="597" y="216" width="1" height="50" fill="#FF4500"/>
<rect x="595" y="227" width="5" height="35" fill="#FF4500"/>
<rect x="605" y="187" width="1" height="47" fill="#FF4500"/>
<rect x="603" y="204" width="5" height="23" fill="#FF4500"/>
<rect x="613" y="159" width="1" height="58" fill="#FF4500"/>
<rect x="611" y="186" width="5" height="20" fill="#FF4500"/>
<rect x="621" y="132" width="1" height="77" fill="#32CD32"/>
<rect x="619" y="185" width="5" height="17" fill="#32CD32"/>
<rect x="629" y="194" width="1" height="25" fill="#32CD32"/>
<rect x="627" y="199" width="5" height="10" fill="#32CD32"/>
<rect x="637" y="196" width="1" height="23" fill="#FF4500"/>
<rect x="635" y="208" width="5" height="2" fill="#FF4500"/>
<rect x="645" y="208" width="1" height="34" fill="#32CD32"/>
<rect x="643" y="208" width="5" height="30" fill="#32CD32"/>
<rect x="653" y="227" width="1" height="55" fill="#32CD32"/>
<rect x="651" y="236" width="5" height="28" fill="#32CD32"/>
<rect x="661" y="242" width="1" height="65" fill="#FF4500"/>
<rect x="659" y="260" width="5" height="5" fill="#FF4500"/>
<rect x="669" y="165" width="1" height="96" fill="#FF4500"/>
<rect x="667" y="169" width="5" height="89" fill="#FF4500"/>
<rect x="677" y="165" width="1" height="10" fill="#32CD32"/>
<rect x="675" y="168" width="5" height="7" fill="#32CD32"/>
<rect x="685" y="176" width="1" height="26" fill="#32CD32"/>
<rect x="683" y="176" width="5" height="19" fill="#32CD32"/>
<rect x="693" y="193" width="1" height="34" fill="#32CD32"/>
<rect x="691" y="193" width="5" height="33" fill="#32CD32"/>
<rect x="701" y="219" width="1" height="23" fill="#32CD32"/>
<rect x="699" y="224" width="5" height="4" fill="#32CD32"/>
<rect x="709" y="214" width="1" height="53" fill="#32CD32"/>
<rect x="707" y="227" width="5" height="20" fill="#32CD32"/>
<rect x="717" y="178" width="1" height="84" fill="#FF4500"/>
<rect x="715" y="189" width="5" height="58" fill="#FF4500"/>
<rect x="725" y="183" width="1" height="39" fill="#32CD32"/>
<rect x="723" y="188" width="5" height="25" fill="#32CD32"/>
<rect x="733" y="210" width="1" height="32" fill="#32CD32"/>
<rect x="731" y="211" width="5" height="25" fill="#32CD32"/>
<rect x="741" y="213" width="1" height="27" fill="#FF4500"/>
<rect x="739" y="219" width="5" height="16" fill="#FF4500"/>
<rect x="749" y="188" width="1" height="37" fill="#FF4500"/>
<rect x="747" y="201" width="5" height="21" fill="#FF4500"/>
<rect x="757" y="183" width="1" height="40" fill="#FF4500"/>
<rect x="755" y="198" width="5" height="5" fill="#FF4500"/>
<rect x="765" y="159" width="1" height="53" fill="#FF4500"/>
<rect x="763" y="189" width="5" height="9" fill="#FF4500"/>
<rect x="773" y="184" width="1" height="58" fill="#32CD32"/>
<rect x="771" y="190" width="5" height="32" fill="#32CD32"/>
<rect x="781" y="219" width="1" height="18" fill="#32CD32"/>
<rect x="779" y="220" width="5" height="13" fill="#32CD32"/>
<rect x="789" y="222" width="1" height="17" fill="#FF4500"/>
<rect x="787" y="230" width="5" height="3" fill="#FF4500"/>
<rect x="797" y="230" width="1" height="16" fill="#32CD32"/>
<rect x="795" y="231" width="5" height="14" fill="#32CD32"/>
<rect x="805" y="231" width="1" height="41" fill="#32CD32"/>
<rect x="803" y="245" width="5" height="12" fill="#32CD32"/>
<rect x="813" y="174" width="1" height="88" fill="#FF4500"/>
<rect x="811" y="191" width="5" height="66" fill="#FF4500"/>
<rect x="821" y="161" width="1" height="41" fill="#FF4500"/>
<rect x="819" y="185" width="5" height="8" fill="#FF4500"/>
<rect x="829" y="162" width="1" height="29" fill="#FF4500"/>
<rect x="827" y="170" width="5" height="17" fill="#FF4500"/>
<rect x="837" y="146" width="1" height="34" fill="#FF4500"/>
<rect x="835" y="169" width="5" height="3" fill="#FF4500"/>
<rect x="845" y="154" width="1" height="20" fill="#FF4500"/>
<rect x="843" y="157" width="5" height="13" fill="#FF4500"/>
<rect x="853" y="140" width="1" height="34" fill="#FF4500"/>
<rect x="851" y="143" width="5" height="14" fill="#FF4500"/>
<rect x="861" y="140" width="1" height="29" fill="#32CD32"/>
<rect x="859" y="144" width="5" height="13" fill="#32CD32"/>
<rect x="869" y="154" width="1" height="82" fill="#32CD32"/>
<rect x="867" y="159" width="5" height="63" fill="#32CD32"/>
<rect x="877" y="206" width="1" height="16" fill="#FF4500"/>
<rect x="875" y="206" width="5" height="16" fill="#FF4500"/>
<rect x="885" y="195" width="1" height="22" fill="#FF4500"/>
<rect x="883" y="201" width="5" height="5" fill="#FF4500"/>
<rect x="893" y="195" width="1" height="17" fill="#32CD32"/>
<rect x="891" y="201" width="5" height="6" fill="#32CD32"/>
<rect x="901" y="200" width="1" height="52" fill="#32CD32"/>
<rect x="899" y="207" width="5" height="30" fill="#32CD32"/>
<rect x="909" y="183" width="1" height="59" fill="#FF4500"/>
<rect x="907" y="188" width="5" height="48" fill="#FF4500"/>
<rect x="917" y="125" width="1" height="64" fill="#FF4500"/>
<rect x="915" y="142" width="5" height="47" fill="#FF4500"/>
<rect x="925" y="128" width="1" height="17" fill="#FF4500"/>
<rect x="923" y="137" width="5" height="7" fill="#FF4500"/>
<rect x="933" y="131" width="1" height="18" fill="#32CD32"/>
<rect x="931" y="137" width="5" height="6" fill="#32CD32"/>
<rect x="941" y="134" width="1" height="13" fill="#32CD32"/>
<rect x="939" y="141" width="5" height="4" fill="#32CD32"/>
<rect x="949" y="115" width="1" height="35" fill="#FF4500"/>
<rect x="947" y="129" width="5" height="15" fill="#FF4500"/>
<rect x="957" y="125" width="1" height="40" fill="#32CD32"/>
<rect x="955" y="127" width="5" height="30" fill="#32CD32"/>
<rect x="965" y="151" width="1" height="52" fill="#32CD32"/>
<rect x="963" y="157" width="5" height="21" fill="#32CD32"/>
<rect x="973" y="178" width="1" height="65" fill="#32CD32"/>
<rect x="971" y="178" width="5" height="24" fill="#32CD32"/>
<rect x="981" y="201" width="1" height="7" fill="#FF4500"/>
<rect x="979" y="203" width="5" height="3" fill="#FF4500"/>
<rect x="989" y="198" width="1" height="18" fill="#32CD32"/>
<rect x="987" y="202" width="5" height="5" fill="#32CD32"/>
<rect x="997" y="202" width="1" height="19" fill="#32CD32"/>
<rect x="995" y="207" width="5" height="12" fill="#32CD32"/>
<rect x="1005" y="188" width="1" height="59" fill="#32CD32"/>
<rect x="1003" y="217" width="5" height="25" fill="#32CD32"/>
<rect x="1013" y="233" width="1" height="77" fill="#32CD32"/>
<rect x="1011" y="242" width="5" height="66" fill="#32CD32"/>
<rect x="1021" y="283" width="1" height="75" fill="#32CD32"/>
<rect x="1019" y="309" width="5" height="35" fill="#32CD32"/>
<rect x="1029" y="335" width="1" height="22" fill="#000"/>
<rect x="1027" y="342" width="5" height="1" fill="#000"/>
<rect x="1037" y="324" width="1" height="20" fill="#32CD32"/>
<rect x="1035" y="340" width="5" height="4" fill="#32CD32"/>
<rect x="1045" y="338" width="1" height="21" fill="#32CD32"/>
<rect x="1043" y="342" width="5" height="7" fill="#32CD32"/>
<rect x="1053" y="306" width="1" height="77" fill="#FF4500"/>
<rect x="1051" y="315" width="5" height="35" fill="#FF4500"/>
<rect x="1061" y="242" width="1" height="84" fill="#FF4500"/>
<rect x="1059" y="242" width="5" height="75" fill="#FF4500"/>
<rect x="1069" y="174" width="1" height="70" fill="#FF4500"/>
<rect x="1067" y="194" width="5" height="50" fill="#FF4500"/>
<rect x="1077" y="187" width="1" height="31" fill="#32CD32"/>
<rect x="1075" y="195" width="5" height="14" fill="#32CD32"/>
<rect x="1085" y="204" width="1" height="22" fill="#32CD32"/>
<rect x="1083" y="207" width="5" height="10" fill="#32CD32"/>
<rect x="1093" y="198" width="1" height="24" fill="#FF4500"/>
<rect x="1091" y="213" width="5" height="5" fill="#FF4500"/>
<rect x="1101" y="205" width="1" height="32" fill="#FF4500"/>
<rect x="1099" y="210" width="5" height="4" fill="#FF4500"/>
<rect x="1109" y="111" width="1" height="107" fill="#FF4500"/>
<rect x="1107" y="118" width="5" height="94" fill="#FF4500"/>
<rect x="1117" y="67" width="1" height="68" fill="#FF4500"/>
<rect x="1115" y="76" width="5" height="41" fill="#FF4500"/>
<rect x="1125" y="74" width="1" height="27" fill="#32CD32"/>
<rect x="1123" y="76" width="5" height="18" fill="#32CD32"/>
<rect x="1133" y="91" width="1" height="19" fill="#32CD32"/>
<rect x="1131" y="92" width="5" height="17" fill="#32CD32"/>
<rect x="1141" y="92" width="1" height="22" fill="#FF4500"/>
<rect x="1139" y="94" width="5" height="14" fill="#FF4500"/>
<rect x="1149" y="79" width="1" height="37" fill="#32CD32"/>
<rect x="1147" y="93" width="5" height="3" fill="#32CD32"/>
<rect x="1157" y="61" width="1" height="79" fill="#32CD32"/>
<rect x="1155" y="94" width="5" height="40" fill="#32CD32"/>
<rect x="1165" y="109" width="1" height="55" fill="#FF4500"/>
<rect x="1163" y="125" width="5" height="10" fill="#FF4500"/>
<rect x="1173" y="117" width="1" height="17" fill="#32CD32"/>
<rect x="1171" y="124" width="5" height="7" fill="#32CD32"/>
<rect x="1181" y="118" width="1" height="17" fill="#FF4500"/>
<rect x="1179" y="121" width="5" height="13" fill="#FF4500"/>
<rect x="1189" y="120" width="1" height="22" fill="#32CD32"/>
<rect x="1187" y="120" width="5" height="12" fill="#32CD32"/>
<rect x="1197" y="118" width="1" height="19" fill="#FF4500"/>
<rect x="1195" y="120" width="5" height="11" fill="#FF4500"/>
<rect x="1205" y="115" width="1" height="41" fill="#32CD32"/>
<rect x="1203" y="120" width="5" height="32" fill="#32CD32"/>
<rect x="1213" y="121" width="1" height="66" fill="#FF4500"/>
<rect x="1211" y="137" width="5" height="16" fill="#FF4500"/>
<rect x="1221" y="110" width="1" height="55" fill="#FF4500"/>
<rect x="1219" y="118" width="5" height="19" fill="#FF4500"/>
<rect x="1229" y="116" width="1" height="19" fill="#32CD32"/>
<rect x="1227" y="119" width="5" height="8" fill="#32CD32"/>
<rect x="1237" y="112" width="1" height="19" fill="#FF4500"/>
<rect x="1235" y="126" width="5" height="2" fill="#FF4500"/>
<rect x="1245" y="120" width="1" height="15" fill="#32CD32"/>
<rect x="1243" y="125" width="5" height="6" fill="#32CD32"/>
<rect x="1253" y="96" width="1" height="46" fill="#FF4500"/>
<rect x="1251" y="115" width="5" height="16" fill="#FF4500"/>
<rect x="1261" y="76" width="1" height="44" fill="#FF4500"/>
<rect x="1259" y="114" width="5" height="3" fill="#FF4500"/>
<rect x="1269" y="86" width="1" height="51" fill="#FF4500"/>
<rect x="1267" y="86" width="5" height="30" fill="#FF4500"/>
<rect x="1277" y="84" width="1" height="27" fill="#32CD32"/>
<rect x="1275" y="86" width="5" height="15" fill="#32CD32"/>
<rect x="1285" y="97" width="1" height="13" fill="#32CD32"/>
<rect x="1283" y="101" width="5" height="2" fill="#32CD32"/>
<rect x="1293" y="91" width="1" height="14" fill="#FF4500"/>
<rect x="1291" y="95" width="5" height="7" fill="#FF4500"/>
<rect x="1301" y="66" width="1" height="32" fill="#FF4500"/>
<rect x="1299" y="69" width="5" height="26" fill="#FF4500"/>
<rect x="1309" y="70" width="1" height="58" fill="#32CD32"/>
<rect x="1307" y="70" width="5" height="52" fill="#32CD32"/>
<rect x="1317" y="110" width="1" height="52" fill="#FF4500"/>
<rect x="1315" y="116" width="5" height="5" fill="#FF4500"/>
<rect x="1325" y="108" width="1" height="10" fill="#FF4500"/>
<rect x="1323" y="110" width="5" height="7" fill="#FF4500"/>
</g>
<g shape-rendering="crispEdges">
<rect x="5" y="566" width="1" height="2" fill="#C0C0C0"/>
<rect x="13" y="566" width="1" height="2" fill="#C0C0C0"/>
<rect x="21" y="564" width="1" height="4" fill="#C0C0C0"/>
<rect x="29" y="562" width="1" height="6" fill="#C0C0C0"/>
<rect x="37" y="561" width="1" height="7" fill="#C0C0C0"/>
<rect x="45" y="560" width="1" height="8" fill="#C0C0C0"/>
<rect x="53" y="560" width="1" height="8" fill="#C0C0C0"/>
<rect x="61" y="560" width="1" height="8" fill="#C0C0C0"/>
<rect x="69" y="558" width="1" height="10" fill="#C0C0C0"/>
<rect x="77" y="552" width="1" height="16" fill="#C0C0C0"/>
<rect x="85" y="548" width="1" height="20" fill="#C0C0C0"/>
<rect x="93" y="546" width="1" height="22" fill="#C0C0C0"/>
<rect x="101" y="545" width="1" height="23" fill="#C0C0C0"/>
<rect x="109" y="544" width="1" height="24" fill="#C0C0C0"/>
<rect x="117" y="542" width="1" height="26" fill="#C0C0C0"/>
<rect x="125" y="540" width="1" height="28" fill="#C0C0C0"/>
<rect x="133" y="540" width="1" height="28" fill="#C0C0C0"/>
<rect x="141" y="541" width="1" height="27" fill="#C0C0C0"/>
<rect x="149" y="542" width="1" height="26" fill="#C0C0C0"/>
<rect x="157" y="542" width="1" height="26" fill="#C0C0C0"/>
<rect x="165" y="541" width="1" height="27" fill="#C0C0C0"/>
<rect x="173" y="538" width="1" height="30" fill="#C0C0C0"/>
<rect x="181" y="537" width="1" height="31" fill="#C0C0C0"/>
<rect x="189" y="537" width="1" height="31" fill="#C0C0C0"/>
<rect x="197" y="538" width="1" height="30" fill="#C0C0C0"/>
<rect x="205" y="538" width="1" height="30" fill="#C0C0C0"/>
<rect x="213" y="540" width="1" height="28" fill="#C0C0C0"/>
<rect x="221" y="542" width="1" height="26" fill="#C0C0C0"/>
<rect x="229" y="546" width="1" height="22" fill="#C0C0C0"/>
<rect x="237" y="548" width="1" height="20" fill="#C0C0C0"/>
<rect x="245" y="551" width="1" height="17" fill="#C0C0C0"/>
<rect x="253" y="555" width="1" height="13" fill="#C0C0C0"/>
<rect x="261" y="559" width="1" height="9" fill="#C0C0C0"/>
<rect x="269" y="561" width="1" height="7" fill="#C0C0C0"/>
<rect x="277" y="563" width="1" height="5" fill="#C0C0C0"/>
<rect x="285" y="564" width="1" height="4" fill="#C0C0C0"/>
<rect x="293" y="566" width="1" height="2" fill="#C0C0C0"/>
<rect x="301" y="567" width="1" height="1" fill="#C0C0C0"/>
<rect x="309" y="567" width="1" height="1" fill="#C0C0C0"/>
<rect x="317" y="567" width="1" height="3" fill="#C0C0C0"/>
<rect x="325" y="567" width="1" height="5" fill="#C0C0C0"/>
<rect x="333" y="567" width="1" height="6" fill="#C0C0C0"/>
<rect x="341" y="567" width="1" height="6" fill="#C0C0C0"/>
<rect x="349" y="567" width="1" height="7" fill="#C0C0C0"/>
<rect x="357" y="567" width="1" height="9" fill="#C0C0C0"/>
<rect x="365" y="567" width="1" height="12" fill="#C0C0C0"/>
<rect x="373" y="567" width="1" height="14" fill="#C0C0C0"/>
<rect x="381" y="567" width="1" height="16" fill="#C0C0C0"/>
<rect x="389" y="567" width="1" height="16" fill="#C0C0C0"/>
<rect x="397" y="567" width="1" height="18" fill="#C0C0C0"/>
<rect x="405" y="567" width="1" height="16" fill="#C0C0C0"/>
<rect x="413" y="567" width="1" height="13" fill="#C0C0C0"/>
<rect x="421" y="567" width="1" height="8" fill="#C0C0C0"/>
<rect x="429" y="567" width="1" height="1" fill="#C0C0C0"/>
<rect x="437" y="566" width="1" height="2" fill="#C0C0C0"/>
<rect x="445" y="563" width="1" height="5" fill="#C0C0C0"/>
<rect x="453" y="560" width="1" height="8" fill="#C0C0C0"/>
<rect x="461" y="556" width="1" height="12" fill="#C0C0C0"/>
<rect x="469" y="552" width="1" height="16" fill="#C0C0C0"/>
<rect x="477" y="550" width="1" height="18" fill="#C0C0C0"/>
<rect x="485" y="549" width="1" height="19" fill="#C0C0C0"/>
<rect x="493" y="549" width="1" height="19" fill="#C0C0C0"/>
<rect x="501" y="548" width="1" height="20" fill="#C0C0C0"/>
<rect x="509" y="547" width="1" height="21" fill="#C0C0C0"/>
<rect x="517" y="545" width="1" height="23" fill="#C0C0C0"/>
<rect x="525" y="544" width="1" height="24" fill="#C0C0C0"/>
<rect x="533" y="544" width="1" height="24" fill="#C0C0C0"/>
<rect x="541" y="544" width="1" height="24" fill="#C0C0C0"/>
<rect x="549" y="545" width="1" height="23" fill="#C0C0C0"/>
<rect x="557" y="545" width="1" height="23" fill="#C0C0C0"/>
<rect x="565" y="545" width="1" height="23" fill="#C0C0C0"/>
<rect x="573" y="548" width="1" height="20" fill="#C0C0C0"/>
<rect x="581" y="551" width="1" height="17" fill="#C0C0C0"/>
<rect x="589" y="554" width="1" height="14" fill="#C0C0C0"/>
<rect x="597" y="555" width="1" height="13" fill="#C0C0C0"/>
<rect x="605" y="555" width="1" height="13" fill="#C0C0C0"/>
<rect x="613" y="554" width="1" height="14" fill="#C0C0C0"/>
<rect x="621" y="553" width="1" height="15" fill="#C0C0C0"/>
<rect x="629" y="554" width="1" height="14" fill="#C0C0C0"/>
<rect x="637" y="555" width="1" height="13" fill="#C0C0C0"/>
<rect x="645" y="556" width="1" height="12" fill="#C0C0C0"/>
<rect x="653" y="559" width="1" height="9" fill="#C0C0C0"/>
<rect x="661" y="562" width="1" height="6" fill="#C0C0C0"/>
<rect x="669" y="561" width="1" height="7" fill="#C0C0C0"/>
<rect x="677" y="559" width="1" height="9" fill="#C0C0C0"/>
<rect x="685" y="558" width="1" height="10" fill="#C0C0C0"/>
<rect x="693" y="559" width="1" height="9" fill="#C0C0C0"/>
<rect x="701" y="560" width="1" height="8" fill="#C0C0C0"/>
<rect x="709" y="562" width="1" height="6" fill="#C0C0C0"/>
<rect x="717" y="562" width="1" height="6" fill="#C0C0C0"/>
<rect x="725" y="562" width="1" height="6" fill="#C0C0C0"/>
<rect x="733" y="563" width="1" height="5" fill="#C0C0C0"/>
<rect x="741" y="564" width="1" height="4" fill="#C0C0C0"/>
<rect x="749" y="563" width="1" height="5" fill="#C0C0C0"/>
<rect x="757" y="562" width="1" height="6" fill="#C0C0C0"/>
<rect x="765" y="562" width="1" height="6" fill="#C0C0C0"/>
<rect x="773" y="562" width="1" height="6" fill="#C0C0C0"/>
<rect x="781" y="564" width="1" height="4" fill="#C0C0C0"/>
<rect x="789" y="565" width="1" height="3" fill="#C0C0C0"/>
<rect x="797" y="566" width="1" height="2" fill="#C0C0C0"/>
<rect x="805" y="567" width="1" height="1" fill="#C0C0C0"/>
<rect x="813" y="567" width="1" height="1" fill="#C0C0C0"/>
<rect x="821" y="566" width="1" height="2" fill="#C0C0C0"/>
<rect x="829" y="564" width="1" height="4" fill="#C0C0C0"/>
<rect x="837" y="562" width="1" height="6" fill="#C0C0C0"/>
<rect x="845" y="560" width="1" height="8" fill="#C0C0C0"/>
<rect x="853" y="559" width="1" height="9" fill="#C0C0C0"/>
<rect x="861" y="558" width="1" height="10" fill="#C0C0C0"/>
<rect x="869" y="560" width="1" height="8" fill="#C0C0C0"/>
<rect x="877" y="562" width="1" height="6" fill="#C0C0C0"/>
<rect x="885" y="562" width="1" height="6" fill="#C0C0C0"/>
<rect x="893" y="563" width="1" height="5" fill="#C0C0C0"/>
<rect x="901" y="565" width="1" height="3" fill="#C0C0C0"/>
<rect x="909" y="565" width="1" height="3" fill="#C0C0C0"/>
<rect x="917" y="562" width="1" height="6" fill="#C0C0C0"/>
<rect x="925" y="561" width="1" height="7" fill="#C0C0C0"/>
<rect x="933" y="559" width="1" height="9" fill="#C0C0C0"/>
<rect x="941" y="558" width="1" height="10" fill="#C0C0C0"/>
<rect x="949" y="557" width="1" height="11" fill="#C0C0C0"/>
<rect x="957" y="557" width="1" height="11" fill="#C0C0C0"/>
<rect x="965" y="559" width="1" height="9" fill="#C0C0C0"/>
<rect x="973" y="561" width="1" height="7" fill="#C0C0C0"/>
<rect x="981" y="563" width="1" height="5" fill="#C0C0C0"/>
<rect x="989" y="565" width="1" height="3" fill="#C0C0C0"/>
<rect x="997" y="567" width="1" height="1" fill="#C0C0C0"/>
<rect x="1005" y="567" width="1" height="1" fill="#C0C0C0"/>
<rect x="1013" y="567" width="1" height="6" fill="#C0C0C0"/>
<rect x="1021" y="567" width="1" height="11" fill="#C0C0C0"/>
<rect x="1029" y="567" width="1" height="16" fill="#C0C0C0"/>
<rect x="1037" y="567" width="1" height="19" fill="#C0C0C0"/>
<rect x="1045" y="567" width="1" height="22" fill="#C0C0C0"/>
<rect x="1053" y="567" width="1" height="22" fill="#C0C0C0"/>
<rect x="1061" y="567" width="1" height="20" fill="#C0C0C0"/>
<rect x="1069" y="567" width="1" height="14" fill="#C0C0C0"/>
<rect x="1077" y="567" width="1" height="11" fill="#C0C0C0"/>
<rect x="1085" y="567" width="1" height="8" fill="#C0C0C0"/>
<rect x="1093" y="567" width="1" height="6" fill="#C0C0C0"/>
<rect x="1101" y="567" width="1" height="3" fill="#C0C0C0"/>
<rect x="1109" y="567" width="1" height="1" fill="#C0C0C0"/>
<rect x="1117" y="560" width="1" height="8" fill="#C0C0C0"/>
<rect x="1125" y="556" width="1" height="12" fill="#C0C0C0"/>
<rect x="1133" y="553" width="1" height="15" fill="#C0C0C0"/>
<rect x="1141" y="550" width="1" height="18" fill="#C0C0C0"/>
<rect x="1149" y="549" width="1" height="19" fill="#C0C0C0"/>
<rect x="1157" y="548" width="1" height="20" fill="#C0C0C0"/>
<rect x="1165" y="549" width="1" height="19" fill="#C0C0C0"/>
<rect x="1173" y="550" width="1" height="18" fill="#C0C0C0"/>
<rect x="1181" y="550" width="1" height="18" fill="#C0C0C0"/>
<rect x="1189" y="551" width="1" height="17" fill="#C0C0C0"/>
<rect x="1197" y="552" width="1" height="16" fill="#C0C0C0"/>
<rect x="1205" y="553" width="1" height="15" fill="#C0C0C0"/>
<rect x="1213" y="555" width="1" height="13" fill="#C0C0C0"/>
<rect x="1221" y="555" width="1" height="13" fill="#C0C0C0"/>
<rect x="1229" y="556" width="1" height="12" fill="#C0C0C0"/>
<rect x="1237" y="556" width="1" height="12" fill="#C0C0C0"/>
<rect x="1245" y="557" width="1" height="11" fill="#C0C0C0"/>
<rect x="1253" y="557" width="1" height="11" fill="#C0C0C0"/>
<rect x="1261" y="556" width="1" height="12" fill="#C0C0C0"/>
<rect x="1269" y="556" width="1" height="12" fill="#C0C0C0"/>
<rect x="1277" y="555" width="1" height="13" fill="#C0C0C0"/>
<rect x="1285" y="556" width="1" height="12" fill="#C0C0C0"/>
<rect x="1293" y="556" width="1" height="12" fill="#C0C0C0"/>
<rect x="1301" y="555" width="1" height="13" fill="#C0C0C0"/>
<rect x="1309" y="555" width="1" height="13" fill="#C0C0C0"/>
<rect x="1317" y="557" width="1" height="11" fill="#C0C0C0"/>
<rect x="1325" y="559" width="1" height="9" fill="#C0C0C0"/>
</g>
<polyline points="5.0,562.5 20.0,565.0 37.5,564.2 54.9,563.0 72.4,560.5 84.9,558.0 99.9,553.8 114.9,550.0 129.8,545.0 144.8,541.8 159.8,539.8 174.8,537.5 182.3,536.2 207.2,536.2 214.7,538.0 232.2,538.5 247.2,541.8 262.2,545.5 277.2,551.0 292.1,555.5 307.1,559.2 322.1,563.0 334.6,566.0 349.6,568.0 364.5,571.0 379.5,574.2 394.5,576.8 404.5,579.2 419.5,580.5 429.5,579.5 431.0,579.2 443.0,576.0 455.5,573.0 468.0,566.8 480.4,561.8 492.9,556.0 505.4,553.0 517.9,550.0 530.4,547.5 542.9,546.0 557.8,545.0 577.8,544.5 592.8,546.8 617.8,550.0 642.7,553.0 667.7,556.0 690.2,556.8 707.7,559.2 727.6,560.0 752.6,561.0 777.6,562.0 807.5,563.0 813.8,565.0 827.5,565.0 847.5,564.2 858.7,562.8 856.0,562.5 863.5,561.8 881.0,560.5 930.9,561.0 955.9,560.5 973.4,559.5 995.8,559.5 1005.8,561.0 1013.3,561.8 1020.8,565.0 1030.8,568.5 1038.3,571.0 1045.8,574.2 1055.8,578.0 1065.7,580.0 1075.7,582.0 1093.2,582.2 1105.7,579.2 1118.2,575.0 1130.7,570.0 1143.1,564.2 1155.6,559.2 1168.1,554.2 1180.6,551.5 1193.1,549.8 1210.6,549.5 1223.0,551.5 1240.5,552.5 1255.5,554.0 1270.5,555.0 1288.0,555.0 1321.5,555.0" fill="none" stroke="#FF0000" stroke-width="1" shape-rendering="crispEdges" stroke-dasharray="3,3"/>
<g shape-rendering="crispEdges">
<line x1="5" y1="633.5" x2="1673" y2="633.5" stroke="#C0C0C0" stroke-width="1" stroke-dasharray="3,3"/>
<line x1="5" y1="684.5" x2="1673" y2="684.5" stroke="#C0C0C0" stroke-width="1" stroke-dasharray="3,3"/>
</g>
<path d="M5.5 664.5H5.5M6.5 663.5H6.5M7.5 662.5H7.5M8.5 661.5H8.5M9.5 660.5H9.5M10.5 659.5H10.5M11.5 658.5H11.5M12.5 657.5H12.5M13.5 656.5H13.5M14.5 655.5H14.5M15.5 654.5H16.5V652.5H16.5M17.5 651.5H17.5M18.5 650.5H18.5M19.5 649.5H20.5V647.5H20.5M21.5 646.5H30.5M31.5 647.5H33.5M34.5 648.5H35.5M36.5 649.5H38.5M39.5 650.5H40.5M41.5 651.5H42.5M43.5 652.5H44.5M45.5 653.5H45.5M46.5 652.5H47.5M48.5 651.5H49.5M50.5 650.5H51.5M52.5 649.5H53.5M54.5 650.5H54.5M55.5 651.5H55.5M56.5 652.5H57.5M58.5 653.5H58.5M59.5 654.5H59.5M60.5 655.5H60.5M61.5 656.5H62.5V654.5H63.5V651.5H64.5V649.5H65.5V647.5H66.5V645.5H67.5V643.5H68.5V641.5H69.5V639.5H69.5M70.5 638.5H70.5M71.5 637.5H71.5M72.5 636.5H73.5M74.5 635.5H74.5M75.5 634.5H75.5M76.5 633.5H80.5M81.5 634.5H84.5M85.5 635.5H86.5M87.5 636.5H88.5M89.5 637.5H90.5M91.5 638.5H92.5M93.5 639.5H97.5M98.5 638.5H102.5M103.5 637.5H105.5M106.5 636.5H108.5M109.5 635.5H110.5M111.5 634.5H113.5M114.5 633.5H115.5M116.5 632.5H122.5M123.5 633.5H126.5M127.5 634.5H129.5M130.5 635.5H131.5M132.5 636.5H134.5M135.5 637.5H136.5M137.5 638.5H139.5M140.5 639.5H143.5M144.5 638.5H147.5M148.5 637.5H152.5M153.5 638.5H158.5M159.5 637.5H160.5M161.5 636.5H162.5M163.5 635.5H164.5M165.5 634.5H166.5M167.5 633.5H168.5M169.5 632.5H170.5M171.5 631.5H172.5M173.5 630.5H174.5M175.5 631.5H178.5M179.5 632.5H185.5M186.5 631.5H189.5M190.5 632.5H191.5M192.5 633.5H192.5M193.5 634.5H194.5M195.5 635.5H195.5M196.5 636.5H196.5M197.5 637.5H200.5M201.5 638.5H204.5M205.5 639.5H213.5M214.5 640.5H214.5M215.5 641.5H215.5M216.5 642.5H217.5V644.5H217.5M218.5 645.5H218.5M219.5 646.5H219.5M220.5 647.5H221.5V649.5H222.5M223.5 650.5H223.5M224.5 651.5H224.5M225.5 652.5H225.5M226.5 653.5H226.5M227.5 654.5H227.5M228.5 655.5H228.5M229.5 656.5H238.5M239.5 657.5H240.5M241.5 658.5H242.5M243.5 659.5H244.5M245.5 660.5H246.5M247.5 661.5H247.5M248.5 662.5H249.5M250.5 663.5H250.5M251.5 664.5H251.5M252.5 665.5H253.5M254.5 666.5H255.5M256.5 667.5H256.5M257.5 668.5H258.5M259.5 669.5H260.5M261.5 670.5H262.5V668.5H262.5M263.5 667.5H264.5V665.5H264.5M265.5 664.5H265.5M266.5 663.5H267.5V661.5H267.5M268.5 660.5H269.5V658.5H269.5M270.5 659.5H270.5M271.5 660.5H272.5M273.5 661.5H274.5M275.5 662.5H275.5M276.5 663.5H281.5M282.5 662.5H286.5M287.5 663.5H288.5M289.5 664.5H291.5M292.5 665.5H294.5M295.5 664.5H298.5M299.5 663.5H301.5M302.5 662.5H303.5M304.5 661.5H305.5M306.5 660.5H306.5M307.5 659.5H308.5M309.5 658.5H310.5V660.5H311.5V662.5H312.5V664.5H313.5V667.5H314.5V669.5H315.5V671.5H316.5V673.5H317.5V675.5H317.5M318.5 674.5H318.5M319.5 673.5H320.5M321.5 672.5H321.5M322.5 671.5H323.5M324.5 670.5H324.5M325.5 669.5H333.5M334.5 668.5H334.5M335.5 667.5H336.5M337.5 666.5H337.5M338.5 665.5H338.5M339.5 664.5H340.5M341.5 663.5H341.5M342.5 662.5H343.5M344.5 661.5H345.5M346.5 660.5H347.5M348.5 659.5H350.5V661.5H351.5V663.5H352.5V665.5H353.5V668.5H354.5V670.5H355.5V672.5H356.5V674.5H357.5V676.5H366.5M367.5 677.5H370.5M371.5 678.5H381.5M382.5 677.5H382.5M383.5 676.5H384.5M385.5 675.5H385.5M386.5 674.5H386.5M387.5 673.5H387.5M388.5 672.5H388.5M389.5 671.5H390.5M391.5 672.5H392.5M393.5 673.5H395.5M396.5 674.5H397.5M398.5 673.5H398.5M399.5 672.5H399.5M400.5 671.5H400.5M401.5 670.5H401.5M402.5 669.5H402.5M403.5 668.5H403.5M404.5 667.5H404.5M405.5 666.5H405.5M406.5 665.5H407.5V663.5H407.5M408.5 662.5H409.5V660.5H409.5M410.5 659.5H411.5V657.5H411.5M412.5 656.5H413.5V654.5H413.5M414.5 653.5H414.5M415.5 652.5H416.5V650.5H416.5M417.5 649.5H417.5M418.5 648.5H418.5M419.5 647.5H420.5V645.5H420.5M421.5 644.5H424.5M425.5 643.5H431.5M432.5 642.5H437.5M438.5 643.5H438.5M439.5 644.5H440.5M441.5 645.5H441.5M442.5 646.5H442.5M443.5 647.5H444.5M445.5 648.5H446.5M447.5 647.5H449.5M450.5 646.5H454.5V644.5H454.5M455.5 643.5H455.5M456.5 642.5H456.5M457.5 641.5H457.5M458.5 640.5H458.5M459.5 639.5H459.5M460.5 638.5H460.5M461.5 637.5H461.5M462.5 636.5H466.5M467.5 635.5H469.5M470.5 636.5H470.5M471.5 637.5H472.5V639.5H472.5M473.5 640.5H473.5M474.5 641.5H474.5M475.5 642.5H476.5V644.5H476.5M477.5 645.5H501.5M502.5 644.5H503.5M504.5 643.5H505.5M506.5 642.5H507.5M508.5 641.5H509.5M510.5 640.5H510.5M511.5 639.5H512.5M513.5 638.5H514.5M515.5 637.5H516.5M517.5 636.5H519.5M520.5 637.5H523.5M524.5 638.5H526.5M527.5 639.5H529.5M530.5 640.5H531.5M532.5 641.5H533.5M534.5 642.5H535.5M536.5 643.5H537.5M538.5 644.5H538.5M539.5 645.5H540.5M541.5 646.5H543.5M544.5 645.5H549.5M550.5 644.5H552.5M553.5 643.5H555.5M556.5 642.5H559.5M560.5 643.5H564.5M565.5 644.5H565.5M566.5 645.5H567.5V647.5H567.5M568.5 648.5H569.5V650.5H569.5M570.5 651.5H571.5V653.5H571.5M572.5 654.5H573.5V656.5H574.5M575.5 657.5H577.5M578.5 658.5H579.5M580.5 659.5H584.5M585.5 660.5H589.5M590.5 659.5H590.5M591.5 658.5H591.5M592.5 657.5H592.5M593.5 656.5H593.5M594.5 655.5H594.5M595.5 654.5H595.5M596.5 653.5H596.5M597.5 652.5H597.5M598.5 651.5H599.5M600.5 650.5H601.5M602.5 649.5H603.5M604.5 648.5H605.5M606.5 647.5H607.5M608.5 646.5H609.5M610.5 645.5H611.5M612.5 644.5H614.5M615.5 645.5H616.5M617.5 646.5H618.5M619.5 647.5H620.5M621.5 648.5H623.5M624.5 649.5H627.5M628.5 650.5H637.5M638.5 651.5H638.5M639.5 652.5H639.5M640.5 653.5H640.5M641.5 654.5H641.5M642.5 655.5H642.5M643.5 656.5H643.5M644.5 657.5H644.5M645.5 658.5H645.5M646.5 659.5H647.5M648.5 660.5H648.5M649.5 661.5H649.5M650.5 662.5H651.5M652.5 663.5H652.5M653.5 664.5H657.5M658.5 663.5H662.5V661.5H663.5V658.5H664.5V656.5H665.5V653.5H666.5V651.5H667.5V648.5H668.5V646.5H669.5V644.5H673.5M674.5 645.5H677.5M678.5 646.5H678.5M679.5 647.5H680.5M681.5 648.5H681.5M682.5 649.5H683.5M684.5 650.5H684.5M685.5 651.5H686.5M687.5 652.5H687.5M688.5 653.5H688.5M689.5 654.5H689.5M690.5 655.5H690.5M691.5 656.5H691.5M692.5 657.5H692.5M693.5 658.5H701.5M702.5 659.5H703.5M704.5 660.5H705.5M706.5 661.5H707.5M708.5 662.5H709.5M710.5 661.5H711.5V659.5H711.5M712.5 658.5H712.5M713.5 657.5H714.5V655.5H714.5M715.5 654.5H716.5V652.5H716.5M717.5 651.5H717.5M718.5 652.5H719.5M720.5 653.5H721.5M722.5 654.5H723.5M724.5 655.5H724.5M725.5 656.5H726.5M727.5 657.5H728.5M729.5 658.5H730.5M731.5 659.5H732.5M733.5 660.5H733.5M734.5 659.5H736.5M737.5 658.5H738.5M739.5 657.5H741.5M742.5 656.5H743.5M744.5 655.5H745.5M746.5 654.5H747.5M748.5 653.5H757.5M758.5 652.5H762.5M763.5 651.5H765.5M766.5 652.5H766.5M767.5 653.5H767.5M768.5 654.5H768.5M769.5 655.5H769.5M770.5 656.5H770.5M771.5 657.5H771.5M772.5 658.5H772.5M773.5 659.5H776.5M777.5 660.5H779.5M780.5 661.5H790.5M791.5 662.5H792.5M793.5 663.5H795.5M796.5 664.5H798.5M799.5 665.5H800.5M801.5 666.5H803.5M804.5 667.5H806.5V665.5H807.5V663.5H808.5V661.5H809.5V659.5H810.5V657.5H811.5V655.5H812.5V653.5H813.5V651.5H817.5M818.5 650.5H822.5M823.5 649.5H825.5M826.5 648.5H827.5M828.5 647.5H837.5M838.5 646.5H841.5M842.5 645.5H845.5M846.5 644.5H848.5M849.5 643.5H851.5M852.5 642.5H854.5M855.5 643.5H856.5M857.5 644.5H859.5M860.5 645.5H862.5V647.5H863.5V650.5H864.5V652.5H865.5V654.5H866.5V656.5H867.5V658.5H868.5V661.5H869.5V663.5H869.5M870.5 662.5H871.5M872.5 661.5H873.5M874.5 660.5H875.5M876.5 659.5H880.5M881.5 658.5H889.5M890.5 659.5H893.5M894.5 660.5H894.5M895.5 661.5H895.5M896.5 662.5H896.5M897.5 663.5H898.5M899.5 664.5H899.5M900.5 665.5H900.5M901.5 666.5H901.5M902.5 665.5H903.5V663.5H903.5M904.5 662.5H904.5M905.5 661.5H906.5V659.5H906.5M907.5 658.5H907.5M908.5 657.5H909.5V655.5H909.5M910.5 654.5H910.5M911.5 653.5H911.5M912.5 652.5H912.5M913.5 651.5H914.5V649.5H914.5M915.5 648.5H915.5M916.5 647.5H916.5M917.5 646.5H929.5M930.5 647.5H942.5M943.5 646.5H945.5M946.5 645.5H947.5M948.5 644.5H949.5M950.5 645.5H950.5M951.5 646.5H951.5M952.5 647.5H952.5M953.5 648.5H953.5M954.5 649.5H954.5M955.5 650.5H955.5M956.5 651.5H956.5M957.5 652.5H958.5M959.5 653.5H959.5M960.5 654.5H960.5M961.5 655.5H962.5M963.5 656.5H963.5M964.5 657.5H964.5M965.5 658.5H966.5M967.5 659.5H967.5M968.5 660.5H969.5M970.5 661.5H970.5M971.5 662.5H972.5M973.5 663.5H984.5M985.5 664.5H990.5M991.5 665.5H992.5M993.5 666.5H995.5M996.5 667.5H997.5M998.5 668.5H999.5M1000.5 669.5H1001.5M1002.5 670.5H1003.5M1004.5 671.5H1004.5M1005.5 672.5H1005.5M1006.5 673.5H1006.5M1007.5 674.5H1008.5V676.5H1008.5M1009.5 677.5H1010.5V679.5H1010.5M1011.5 680.5H1011.5M1012.5 681.5H1013.5V683.5H1014.5M1015.5 684.5H1015.5M1016.5 685.5H1017.5M1018.5 686.5H1018.5M1019.5 687.5H1020.5M1021.5 688.5H1025.5M1026.5 687.5H1040.5M1041.5 688.5H1045.5M1046.5 687.5H1047.5V685.5H1047.5M1048.5 684.5H1048.5M1049.5 683.5H1049.5M1050.5 682.5H1051.5V680.5H1051.5M1052.5 679.5H1052.5M1053.5 678.5H1054.5V675.5H1055.5V673.5H1056.5V671.5H1057.5V668.5H1058.5V666.5H1059.5V663.5H1060.5V661.5H1061.5V659.5H1062.5V657.5H1062.5M1063.5 656.5H1063.5M1064.5 655.5H1064.5M1065.5 654.5H1065.5M1066.5 653.5H1066.5M1067.5 652.5H1067.5M1068.5 651.5H1068.5M1069.5 650.5H1070.5M1071.5 651.5H1073.5M1074.5 652.5H1076.5M1077.5 653.5H1081.5M1082.5 654.5H1096.5M1097.5 653.5H1102.5V651.5H1103.5V649.5H1104.5V647.5H1105.5V645.5H1106.5V643.5H1106.5M1107.5 642.5H1108.5V640.5H1109.5V638.5H1109.5M1110.5 637.5H1111.5M1112.5 636.5H1113.5M1114.5 635.5H1114.5M1115.5 634.5H1116.5M1117.5 633.5H1117.5M1118.5 634.5H1119.5M1120.5 635.5H1120.5M1121.5 636.5H1122.5M1123.5 637.5H1124.5M1125.5 638.5H1126.5M1127.5 639.5H1129.5M1130.5 640.5H1131.5M1132.5 641.5H1135.5M1136.5 640.5H1139.5M1140.5 639.5H1149.5M1150.5 640.5H1151.5V642.5H1151.5M1152.5 643.5H1152.5M1153.5 644.5H1153.5M1154.5 645.5H1155.5V647.5H1155.5M1156.5 648.5H1156.5M1157.5 649.5H1159.5M1160.5 648.5H1163.5M1164.5 647.5H1166.5M1167.5 648.5H1170.5M1171.5 649.5H1175.5M1176.5 648.5H1179.5M1180.5 647.5H1182.5M1183.5 648.5H1184.5M1185.5 649.5H1187.5M1188.5 650.5H1191.5M1192.5 649.5H1195.5M1196.5 648.5H1197.5M1198.5 649.5H1198.5M1199.5 650.5H1199.5M1200.5 651.5H1200.5M1201.5 652.5H1201.5M1202.5 653.5H1202.5M1203.5 654.5H1203.5M1204.5 655.5H1204.5M1205.5 656.5H1206.5M1207.5 655.5H1208.5M1209.5 654.5H1211.5M1212.5 653.5H1213.5M1214.5 652.5H1215.5M1216.5 651.5H1217.5M1218.5 650.5H1219.5M1220.5 649.5H1222.5M1223.5 650.5H1226.5M1227.5 651.5H1240.5M1241.5 652.5H1246.5M1247.5 651.5H1249.5M1250.5 650.5H1251.5M1252.5 649.5H1257.5M1258.5 648.5H1261.5M1262.5 647.5H1263.5M1264.5 646.5H1264.5M1265.5 645.5H1265.5M1266.5 644.5H1267.5M1268.5 643.5H1268.5M1269.5 642.5H1269.5M1270.5 643.5H1271.5M1272.5 644.5H1272.5M1273.5 645.5H1274.5M1275.5 646.5H1276.5M1277.5 647.5H1288.5M1289.5 646.5H1293.5M1294.5 645.5H1294.5M1295.5 644.5H1296.5M1297.5 643.5H1297.5M1298.5 642.5H1298.5M1299.5 641.5H1300.5M1301.5 640.5H1302.5V642.5H1303.5V644.5H1304.5V646.5H1305.5V649.5H1306.5V651.5H1307.5V653.5H1308.5V655.5H1309.5V657.5H1311.5M1312.5 656.5H1315.5M1316.5 655.5H1321.5M1322.5 654.5H1325.5" fill="none" stroke="#1E90FF" stroke-width="1" stroke-linecap="square" shape-rendering="crispEdges"/>
<g shape-rendering="crispEdges">
<rect x="1675" y="69" width="2" height="1" fill="#000"/>
<rect x="1675" y="118" width="2" height="1" fill="#000"/>
<rect x="1675" y="167" width="2" height="1" fill="#000"/>
<rect x="1675" y="216" width="2" height="1" fill="#000"/>
<rect x="1675" y="265" width="2" height="1" fill="#000"/>
<rect x="1675" y="314" width="2" height="1" fill="#000"/>
<rect x="1675" y="363" width="2" height="1" fill="#000"/>
<rect x="1675" y="412" width="2" height="1" fill="#000"/>
<rect x="1675" y="461" width="2" height="1" fill="#000"/>
<rect x="1675" y="510" width="2" height="1" fill="#000"/>
</g>
<text x="1682" y="74" font-size="12" fill="#000" text-anchor="start" font-weight="normal" textLength="37.4" lengthAdjust="spacingAndGlyphs" >58.610</text>
<text x="1682" y="123" font-size="12" fill="#000" text-anchor="start" font-weight="normal" textLength="37.4" lengthAdjust="spacingAndGlyphs" >58.020</text>
<text x="1682" y="172" font-size="12" fill="#000" text-anchor="start" font-weight="normal" textLength="37.4" lengthAdjust="spacingAndGlyphs" >57.430</text>
<text x="1682" y="221" font-size="12" fill="#000" text-anchor="start" font-weight="normal" textLength="37.4" lengthAdjust="spacingAndGlyphs" >56.840</text>
<text x="1682" y="270" font-size="12" fill="#000" text-anchor="start" font-weight="normal" textLength="37.4" lengthAdjust="spacingAndGlyphs" >56.250</text>
<text x="1682" y="319" font-size="12" fill="#000" text-anchor="start" font-weight="normal" textLength="37.4" lengthAdjust="spacingAndGlyphs" >55.660</text>
<text x="1682" y="368" font-size="12" fill="#000" text-anchor="start" font-weight="normal" textLength="37.4" lengthAdjust="spacingAndGlyphs" >55.060</text>
<text x="1682" y="417" font-size="12" fill="#000" text-anchor="start" font-weight="normal" textLength="37.4" lengthAdjust="spacingAndGlyphs" >54.470</text>
<text x="1682" y="466" font-size="12" fill="#000" text-anchor="start" font-weight="normal" textLength="37.4" lengthAdjust="spacingAndGlyphs" >53.880</text>
<text x="1682" y="515" font-size="12" fill="#000" text-anchor="start" font-weight="normal" textLength="37.4" lengthAdjust="spacingAndGlyphs" >53.290</text>
<rect x="1676" y="72" width="49" height="14" fill="#FF0000" shape-rendering="crispEdges"/>
<text x="1682" y="83.8" font-size="12" fill="#fff" text-anchor="start" font-weight="normal" textLength="37.4" lengthAdjust="spacingAndGlyphs" >58.500</text>
<rect x="1676" y="103" width="49" height="14" fill="#000000" shape-rendering="crispEdges"/>
<text x="1682" y="114.8" font-size="12" fill="#fff" text-anchor="start" font-weight="normal" textLength="37.4" lengthAdjust="spacingAndGlyphs" >58.120</text>
<rect x="1676" y="197" width="49" height="14" fill="#00FF7F" shape-rendering="crispEdges"/>
<text x="1682" y="208.8" font-size="12" fill="#fff" text-anchor="start" font-weight="normal" textLength="37.4" lengthAdjust="spacingAndGlyphs" >57.000</text>
<rect x="1676" y="362" width="49" height="14" fill="#0000FF" shape-rendering="crispEdges"/>
<text x="1682" y="373.8" font-size="12" fill="#fff" text-anchor="start" font-weight="normal" textLength="37.4" lengthAdjust="spacingAndGlyphs" >55.000</text>
<text x="1679" y="545" font-size="12" fill="#000" text-anchor="start" font-weight="normal" textLength="37.4" lengthAdjust="spacingAndGlyphs" >0.7143</text>
<text x="1679" y="571" font-size="12" fill="#000" text-anchor="start" font-weight="normal" textLength="24.5" lengthAdjust="spacingAndGlyphs" >0.00</text>
<text x="1678" y="588" font-size="12" fill="#000" text-anchor="start" font-weight="normal" textLength="42" lengthAdjust="spacingAndGlyphs" >-0.5209</text>
<text x="1678.5" y="608.3" font-size="12" fill="#000" text-anchor="start" font-weight="normal" textLength="19.5" lengthAdjust="spacingAndGlyphs" >100</text>
<text x="1678.5" y="638.3" font-size="12" fill="#000" text-anchor="start" font-weight="normal" textLength="13" lengthAdjust="spacingAndGlyphs" >70</text>
<text x="1678.5" y="689.3" font-size="12" fill="#000" text-anchor="start" font-weight="normal" textLength="13" lengthAdjust="spacingAndGlyphs" >30</text>
<text x="1679" y="719.3" font-size="12" fill="#000" text-anchor="start" font-weight="normal" textLength="6.3" lengthAdjust="spacingAndGlyphs" >0</text>
<g shape-rendering="crispEdges">
<rect x="1675" y="533" width="1" height="1" fill="#000"/>
<rect x="1675" y="567" width="1" height="1" fill="#000"/>
<rect x="1675" y="591" width="1" height="1" fill="#000"/>
<rect x="1675" y="596" width="1" height="1" fill="#000"/>
<rect x="1675" y="633" width="1" height="1" fill="#000"/>
<rect x="1675" y="684" width="1" height="1" fill="#000"/>
<rect x="1675" y="720" width="1" height="1" fill="#000"/>
</g>
<g shape-rendering="crispEdges">
<rect x="5" y="723" width="1" height="3" fill="#000"/>
<rect x="101" y="723" width="1" height="3" fill="#000"/>
<rect x="197" y="723" width="1" height="3" fill="#000"/>
<rect x="293" y="723" width="1" height="3" fill="#000"/>
<rect x="389" y="723" width="1" height="3" fill="#000"/>
<rect x="485" y="723" width="1" height="3" fill="#000"/>
<rect x="581" y="723" width="1" height="3" fill="#000"/>
<rect x="677" y="723" width="1" height="3" fill="#000"/>
<rect x="773" y="723" width="1" height="3" fill="#000"/>
<rect x="869" y="723" width="1" height="3" fill="#000"/>
<rect x="965" y="723" width="1" height="3" fill="#000"/>
<rect x="1061" y="723" width="1" height="3" fill="#000"/>
<rect x="1157" y="723" width="1" height="3" fill="#000"/>
<rect x="1253" y="723" width="1" height="3" fill="#000"/>
</g>
<text x="4.2" y="738" font-size="12" fill="#000" text-anchor="start" font-weight="normal" textLength="69.3" lengthAdjust="spacingAndGlyphs" >22 Oct 2019</text>
<text x="100.2" y="738" font-size="12" fill="#000" text-anchor="start" font-weight="normal" textLength="73" lengthAdjust="spacingAndGlyphs" >24 Oct 04:00</text>
<text x="196.2" y="738" font-size="12" fill="#000" text-anchor="start" font-weight="normal" textLength="73" lengthAdjust="spacingAndGlyphs" >28 Oct 00:00</text>
<text x="292.2" y="738" font-size="12" fill="#000" text-anchor="start" font-weight="normal" textLength="73" lengthAdjust="spacingAndGlyphs" >30 Oct 00:00</text>
<text x="388.2" y="738" font-size="12" fill="#000" text-anchor="start" font-weight="normal" textLength="67.5" lengthAdjust="spacingAndGlyphs" >1 Nov 00:00</text>
<text x="484.2" y="738" font-size="12" fill="#000" text-anchor="start" font-weight="normal" textLength="67.5" lengthAdjust="spacingAndGlyphs" >4 Nov 20:00</text>
<text x="580.2" y="738" font-size="12" fill="#000" text-anchor="start" font-weight="normal" textLength="67.5" lengthAdjust="spacingAndGlyphs" >6 Nov 20:00</text>
<text x="676.2" y="738" font-size="12" fill="#000" text-anchor="start" font-weight="normal" textLength="67.5" lengthAdjust="spacingAndGlyphs" >8 Nov 20:00</text>
<text x="772.2" y="738" font-size="12" fill="#000" text-anchor="start" font-weight="normal" textLength="73" lengthAdjust="spacingAndGlyphs" >12 Nov 16:00</text>
<text x="868.2" y="738" font-size="12" fill="#000" text-anchor="start" font-weight="normal" textLength="73" lengthAdjust="spacingAndGlyphs" >14 Nov 16:00</text>
<text x="964.2" y="738" font-size="12" fill="#000" text-anchor="start" font-weight="normal" textLength="73" lengthAdjust="spacingAndGlyphs" >18 Nov 12:00</text>
<text x="1060.2" y="738" font-size="12" fill="#000" text-anchor="start" font-weight="normal" textLength="73" lengthAdjust="spacingAndGlyphs" >20 Nov 12:00</text>
<text x="1156.2" y="738" font-size="12" fill="#000" text-anchor="start" font-weight="normal" textLength="73" lengthAdjust="spacingAndGlyphs" >22 Nov 12:00</text>
<text x="1252.2" y="738" font-size="12" fill="#000" text-anchor="start" font-weight="normal" textLength="73" lengthAdjust="spacingAndGlyphs" >26 Nov 08:00</text>
<text x="9" y="547" font-size="12" fill="#000" text-anchor="start" font-weight="normal" textLength="171" lengthAdjust="spacingAndGlyphs" >MACD(12,26,9) 0.1896 0.2347</text>
<text x="9" y="610" font-size="12" fill="#000" text-anchor="start" font-weight="normal" textLength="92" lengthAdjust="spacingAndGlyphs" >RSI(14) 53.8799</text>
<path d="M8 49 L12.5 44 L17 49 Z" fill="#000"/>
<text x="23.4" y="51" font-size="12.5" fill="#000" text-anchor="start" font-weight="normal" textLength="49.4" lengthAdjust="spacingAndGlyphs" >USOil-,H4</text>
<text x="82.4" y="51" font-size="12.5" fill="#000" text-anchor="start" font-weight="normal" textLength="37.2" lengthAdjust="spacingAndGlyphs" >58.040</text>
<text x="125.2" y="51" font-size="12.5" fill="#000" text-anchor="start" font-weight="normal" textLength="37.6" lengthAdjust="spacingAndGlyphs" >58.140</text>
<text x="168.2" y="51" font-size="12.5" fill="#000" text-anchor="start" font-weight="normal" textLength="38.1" lengthAdjust="spacingAndGlyphs" >58.030</text>
<text x="211.2" y="51" font-size="12.5" fill="#000" text-anchor="start" font-weight="normal" textLength="38.2" lengthAdjust="spacingAndGlyphs" >58.120</text>
<path d="M1332 37 L1344 37 L1338 43 Z" fill="#C0C0C0"/>
<g shape-rendering="crispEdges">
<rect x="7" y="58" width="285" height="78" fill="#FFFFFF"/>
<rect x="8" y="59" width="68" height="28" fill="url(#gTab)"/>
<rect x="8" y="59" width="68" height="1" fill="#C81010"/><rect x="8" y="59" width="1" height="28" fill="#C81010"/><rect x="75" y="59" width="1" height="28" fill="#C81010"/>
<rect x="8" y="87" width="141" height="48" fill="url(#gLow)"/>
<rect x="12" y="85" width="60" height="1" fill="#A00000"/>
<rect x="223" y="59" width="68" height="28" fill="url(#gTab)"/>
<rect x="223" y="59" width="68" height="1" fill="#C81010"/><rect x="223" y="59" width="1" height="28" fill="#C81010"/><rect x="290" y="59" width="1" height="28" fill="#C81010"/>
<rect x="151" y="87" width="140" height="48" fill="url(#gLow)"/>
<rect x="227" y="85" width="60" height="1" fill="#A00000"/>
<rect x="78" y="59" width="143" height="26" fill="#FFFFFF" stroke="none"/>
<rect x="78" y="59" width="143" height="1" fill="#ABADB3"/><rect x="78" y="84" width="143" height="1" fill="#ABADB3"/><rect x="78" y="59" width="1" height="26" fill="#ABADB3"/><rect x="220" y="59" width="1" height="26" fill="#ABADB3"/>
<rect x="80" y="61" width="22" height="22" fill="url(#gBtn)"/><rect x="102" y="60" width="1" height="24" fill="#ABADB3"/>
<rect x="197" y="61" width="22" height="22" fill="url(#gBtn)"/><rect x="196" y="60" width="1" height="24" fill="#ABADB3"/>
</g>
<path d="M87 70 L95 70 L91 74.5 Z" fill="#4A5FC0"/>
<path d="M204 73.5 L212 73.5 L208 69 Z" fill="#4A5FC0"/>
<text x="192" y="76.5" font-size="14.5" fill="#000" text-anchor="end" font-weight="normal" textLength="29" lengthAdjust="spacingAndGlyphs" >1.00</text>
<text x="25.5" y="78" font-size="15" fill="#fff" text-anchor="start" font-weight="normal" textLength="32.5" lengthAdjust="spacingAndGlyphs" >SELL</text>
<text x="242.5" y="78" font-size="15" fill="#fff" text-anchor="start" font-weight="normal" textLength="28" lengthAdjust="spacingAndGlyphs" >BUY</text>
<text x="47.5" y="124" font-size="14.5" fill="#fff" text-anchor="start" font-weight="bold" textLength="17.5" lengthAdjust="spacingAndGlyphs" >58</text>
<text x="189.7" y="124" font-size="14.5" fill="#fff" text-anchor="start" font-weight="bold" textLength="17.5" lengthAdjust="spacingAndGlyphs" >58</text>
<text x="70.3" y="124.6" font-size="43" fill="#fff" text-anchor="start" font-weight="normal" textLength="41.5" lengthAdjust="spacingAndGlyphs" stroke="url(#gLowU)" stroke-width="0.7">12</text>
<text x="212.8" y="124.6" font-size="43" fill="#fff" text-anchor="start" font-weight="normal" textLength="42.5" lengthAdjust="spacingAndGlyphs" stroke="url(#gLowU)" stroke-width="0.7">18</text>
<text x="118.4" y="105.5" font-size="14" fill="#fff" text-anchor="start" font-weight="bold" textLength="8" lengthAdjust="spacingAndGlyphs" >0</text>
<text x="261.2" y="105.5" font-size="14" fill="#fff" text-anchor="start" font-weight="bold" textLength="8.5" lengthAdjust="spacingAndGlyphs" >0</text>
<g stroke="#555555" fill="none" stroke-linecap="round"><path d="M2.8 18.2 L13.3 8.6" stroke-width="1.4"/><path d="M9.8 24.6 L21.3 14.2" stroke-width="1.4"/><path d="M4.6 23.3 L7 15.6 L10.2 20.4 L14 11.9 L16 17 L17.8 6.4 L19.5 14.3" stroke-width="1.7" stroke-linejoin="round"/></g>
<path d="M17.3 21.3h4.8v1.5h-2.9v1.1h2.6v1.4h-2.6v1.1h3v1.4h-4.9z" fill="#505050"/>
<g fill="#5A5A5A">
<rect x="38.3" y="7.4" width="1.3" height="1.4"/>
<rect x="40.8" y="7.4" width="1.3" height="1.4"/>
<rect x="43.3" y="7.4" width="1.3" height="1.4"/>
<rect x="45.8" y="7.4" width="1.3" height="1.4"/>
<rect x="48.3" y="7.4" width="1.3" height="1.4"/>
<rect x="50.8" y="7.4" width="1.3" height="1.4"/>
<rect x="53.3" y="7.4" width="1.3" height="1.4"/>
<rect x="38.3" y="11.2" width="1.3" height="1.4"/>
<rect x="40.8" y="11.2" width="1.3" height="1.4"/>
<rect x="43.3" y="11.2" width="1.3" height="1.4"/>
<rect x="45.8" y="11.2" width="1.3" height="1.4"/>
<rect x="48.3" y="11.2" width="1.3" height="1.4"/>
<rect x="50.8" y="11.2" width="1.3" height="1.4"/>
<rect x="53.3" y="11.2" width="1.3" height="1.4"/>
<rect x="38.3" y="16.3" width="1.3" height="1.4"/>
<rect x="40.8" y="16.3" width="1.3" height="1.4"/>
<rect x="43.3" y="16.3" width="1.3" height="1.4"/>
<rect x="45.8" y="16.3" width="1.3" height="1.4"/>
<rect x="48.3" y="16.3" width="1.3" height="1.4"/>
<rect x="50.8" y="16.3" width="1.3" height="1.4"/>
<rect x="53.3" y="16.3" width="1.3" height="1.4"/>
<rect x="38.3" y="21.4" width="1.3" height="1.4"/>
<rect x="40.8" y="21.4" width="1.3" height="1.4"/>
<rect x="43.3" y="21.4" width="1.3" height="1.4"/>
<rect x="45.8" y="21.4" width="1.3" height="1.4"/>
<rect x="48.3" y="21.4" width="1.3" height="1.4"/>
</g>
<path d="M51.2 21.3h4.9v1.5h-3v1.2h2.6v1.4h-2.6v2.4h-1.9z" fill="#505050"/>
<text x="76.2" y="22.6" font-size="16.5" fill="#5E5E5E" text-anchor="start" font-weight="bold" textLength="10.2" lengthAdjust="spacingAndGlyphs" >A</text>
<rect x="108.5" y="9.5" width="14" height="15" fill="none" stroke="#5A5A5A" stroke-width="1.2" stroke-dasharray="1.2,1.4"/>
<rect x="110.5" y="12" width="10" height="1.8" fill="#5A5A5A"/><rect x="114.4" y="13" width="2.6" height="9.5" fill="#5A5A5A"/><rect x="107" y="7.5" width="2.5" height="2" fill="#5A5A5A"/>
<path d="M140.7 14 L145 8.7 L149.3 14 Z" fill="#5A5A5A"/><path d="M149.3 20.3 L158.6 20.3 L154 25 Z" fill="#5A5A5A"/><path d="M143.5 18 L146.3 20.6 L152 14" stroke="#5A5A5A" stroke-width="2" fill="none"/>
<path d="M163.8 15 L171.4 15 L167.6 19 Z" fill="#000"/>
<g shape-rendering="crispEdges">
<rect x="179" y="0" width="1" height="32" fill="#A0A0A0"/><rect x="180" y="0" width="1" height="32" fill="#FFFFFF"/>
<rect x="183" y="3" width="3" height="1" fill="#A0A0A0"/>
<rect x="183" y="5" width="3" height="1" fill="#A0A0A0"/>
<rect x="183" y="7" width="3" height="1" fill="#A0A0A0"/>
<rect x="183" y="9" width="3" height="1" fill="#A0A0A0"/>
<rect x="183" y="11" width="3" height="1" fill="#A0A0A0"/>
<rect x="183" y="13" width="3" height="1" fill="#A0A0A0"/>
<rect x="183" y="15" width="3" height="1" fill="#A0A0A0"/>
<rect x="183" y="17" width="3" height="1" fill="#A0A0A0"/>
<rect x="183" y="19" width="3" height="1" fill="#A0A0A0"/>
<rect x="183" y="21" width="3" height="1" fill="#A0A0A0"/>
<rect x="183" y="23" width="3" height="1" fill="#A0A0A0"/>
<rect x="183" y="25" width="3" height="1" fill="#A0A0A0"/>
<rect x="183" y="27" width="3" height="1" fill="#A0A0A0"/>
<rect x="183" y="29" width="3" height="1" fill="#A0A0A0"/>
<rect x="494" y="0" width="1" height="32" fill="#A0A0A0"/><rect x="495" y="0" width="1" height="32" fill="#FFFFFF"/>
<rect x="359" y="1" width="31" height="29" fill="url(#hatch)"/>
<rect x="359" y="1" width="31" height="1" fill="#A0A0A0"/><rect x="359" y="1" width="1" height="29" fill="#A0A0A0"/><rect x="389" y="1" width="1" height="29" fill="#FFFFFF"/><rect x="359" y="29" width="31" height="1" fill="#FFFFFF"/>
</g>
<text x="196.1" y="21" font-size="12" fill="#505050" text-anchor="start" font-weight="normal" textLength="16.2" lengthAdjust="spacingAndGlyphs" >M1</text>
<text x="230.3" y="21" font-size="12" fill="#505050" text-anchor="start" font-weight="normal" textLength="15.8" lengthAdjust="spacingAndGlyphs" >M5</text>
<text x="261.8" y="21" font-size="12" fill="#505050" text-anchor="start" font-weight="normal" textLength="22.2" lengthAdjust="spacingAndGlyphs" >M15</text>
<text x="296" y="21" font-size="12" fill="#505050" text-anchor="start" font-weight="normal" textLength="22.2" lengthAdjust="spacingAndGlyphs" >M30</text>
<text x="333.5" y="21" font-size="12" fill="#505050" text-anchor="start" font-weight="normal" textLength="14.8" lengthAdjust="spacingAndGlyphs" >H1</text>
<text x="365.9" y="21" font-size="12" fill="#505050" text-anchor="start" font-weight="normal" textLength="18.5" lengthAdjust="spacingAndGlyphs" >H4</text>
<text x="401" y="21" font-size="12" fill="#505050" text-anchor="start" font-weight="normal" textLength="15.4" lengthAdjust="spacingAndGlyphs" >D1</text>
<text x="434.9" y="21" font-size="12" fill="#505050" text-anchor="start" font-weight="normal" textLength="17.9" lengthAdjust="spacingAndGlyphs" >W1</text>
<text x="466.7" y="21" font-size="12" fill="#505050" text-anchor="start" font-weight="normal" textLength="18.5" lengthAdjust="spacingAndGlyphs" >MN</text>
</svg></body></html>
